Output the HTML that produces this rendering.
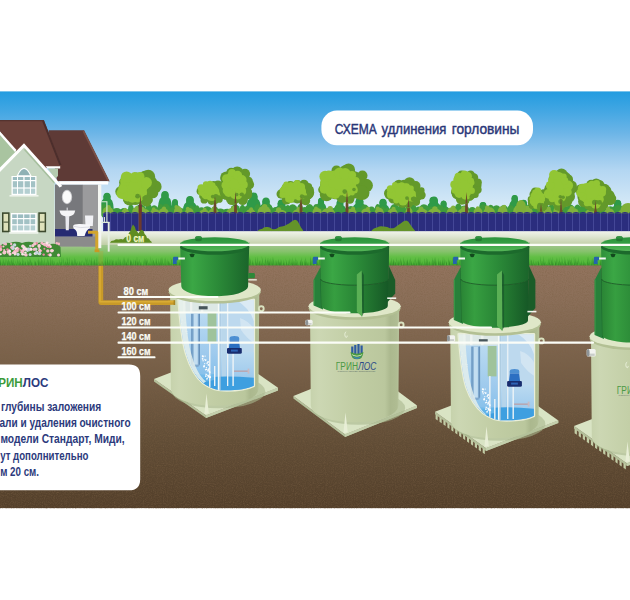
<!DOCTYPE html>
<html lang="ru"><head><meta charset="utf-8"><title>СХЕМА удлинения горловины</title>
<style>
html,body{margin:0;padding:0;background:#fff;}
body{width:630px;height:600px;overflow:hidden;font-family:"Liberation Sans",sans-serif;}
svg{display:block}
text{font-family:"Liberation Sans",sans-serif;}
</style></head><body>
<svg width="630" height="600" viewBox="0 0 630 600">
<defs>
<linearGradient id="sky" x1="0" y1="0" x2="0" y2="1">
<stop offset="0" stop-color="#229ce0"/><stop offset="0.12" stop-color="#41a6e3"/><stop offset="0.27" stop-color="#6cb5e7"/><stop offset="0.38" stop-color="#90c5ec"/><stop offset="0.51" stop-color="#b3d6f2"/><stop offset="0.7" stop-color="#d0e6f6"/><stop offset="0.8" stop-color="#ddedf9"/><stop offset="1" stop-color="#e4f0f9"/>
</linearGradient>
<linearGradient id="soil" x1="0" y1="0" x2="0" y2="1">
<stop offset="0" stop-color="#93745e"/><stop offset="0.14" stop-color="#8b6f59"/><stop offset="0.39" stop-color="#79614a"/><stop offset="0.72" stop-color="#614d36"/><stop offset="1" stop-color="#533f2a"/>
</linearGradient>
<linearGradient id="grass" x1="0" y1="0" x2="0" y2="1">
<stop offset="0" stop-color="#a2c68d"/><stop offset="0.3" stop-color="#86c26c"/><stop offset="0.55" stop-color="#62bf45"/><stop offset="1" stop-color="#4ab433"/>
</linearGradient>
<linearGradient id="band" x1="0" y1="0" x2="0" y2="1">
<stop offset="0" stop-color="#f0f3ea"/><stop offset="0.35" stop-color="#e0e7d4"/><stop offset="0.75" stop-color="#ccd7b6"/><stop offset="1" stop-color="#becda5"/>
</linearGradient>
<linearGradient id="lid" x1="0" y1="0" x2="1" y2="0">
<stop offset="0" stop-color="#2f8f3a"/><stop offset="0.18" stop-color="#3ba745"/><stop offset="0.55" stop-color="#2b8a38"/><stop offset="1" stop-color="#1a642a"/>
</linearGradient>
<linearGradient id="lidtop" x1="0" y1="0" x2="0" y2="1">
<stop offset="0" stop-color="#2b933b"/><stop offset="0.5" stop-color="#36a045"/><stop offset="0.72" stop-color="#48ad4f"/><stop offset="1" stop-color="#55b558"/>
</linearGradient>
<linearGradient id="lid2" x1="0" y1="0" x2="1" y2="0">
<stop offset="0" stop-color="#2a8535"/><stop offset="0.2" stop-color="#369e40"/><stop offset="0.6" stop-color="#267f33"/><stop offset="1" stop-color="#165826"/>
</linearGradient>
<linearGradient id="body" x1="0" y1="0" x2="1" y2="0">
<stop offset="0" stop-color="#c6d2ac"/><stop offset="0.1" stop-color="#ccd7b3"/><stop offset="0.5" stop-color="#c1cda4"/><stop offset="0.84" stop-color="#bac79d"/><stop offset="0.9" stop-color="#abb88e"/><stop offset="0.97" stop-color="#afbc92"/><stop offset="1" stop-color="#b8c49d"/>
</linearGradient>
<linearGradient id="water" x1="0" y1="0" x2="0" y2="1">
<stop offset="0" stop-color="#badaf1"/><stop offset="0.5" stop-color="#9ecaed"/><stop offset="1" stop-color="#74b9e9"/>
</linearGradient>
<filter id="noise" x="0" y="0" width="100%" height="100%">
<feTurbulence type="fractalNoise" baseFrequency="0.9" numOctaves="2" seed="3" result="n"/>
<feColorMatrix in="n" type="matrix" values="0 0 0 0 0.2  0 0 0 0 0.12  0 0 0 0 0.06  0.9 0.9 0.9 0 -1.15"/>
</filter>
</defs>

<rect width="630" height="600" fill="#fff"/>
<rect x="0" y="91.4" width="630" height="154.6" fill="url(#sky)"/>
<g fill="#2f9a48"><path d="M100.3 215 Q99.8 201.0 103.3 199.0 Q103.0 193.5 107.0 193.0 Q111.0 193.5 110.7 199.0 Q114.2 201.0 113.7 215 Z"/><circle cx="107.0" cy="196.2" r="3.5"/><path d="M158.0 215 Q157.5 199.5 161.2 197.5 Q160.8 192.0 165.0 191.5 Q169.2 192.0 168.8 197.5 Q172.5 199.5 172.0 215 Z"/><circle cx="165.0" cy="194.7" r="3.6"/><path d="M182.9 215 Q182.4 204.5 186.1 202.5 Q185.7 197.0 190.0 196.5 Q194.3 197.0 193.9 202.5 Q197.6 204.5 197.1 215 Z"/><circle cx="190.0" cy="199.7" r="3.7"/><path d="M246.2 215 Q245.7 201.0 249.5 199.0 Q249.2 193.5 253.6 193.0 Q258.0 193.5 257.7 199.0 Q261.5 201.0 261.0 215 Z"/><circle cx="253.6" cy="196.2" r="3.8"/><path d="M259.0 215 Q258.5 206.0 262.2 204.0 Q261.8 198.5 266.0 198.0 Q270.2 198.5 269.8 204.0 Q273.5 206.0 273.0 215 Z"/><circle cx="266.0" cy="201.2" r="3.6"/><path d="M274.2 215 Q273.7 208.0 277.5 206.0 Q277.1 200.5 281.5 200.0 Q285.9 200.5 285.5 206.0 Q289.3 208.0 288.8 215 Z"/><circle cx="281.5" cy="203.2" r="3.8"/><path d="M315.4 215 Q314.9 205.6 317.9 203.6 Q317.7 198.1 321.0 197.6 Q324.3 198.1 324.1 203.6 Q327.1 205.6 326.6 215 Z"/><circle cx="321.0" cy="200.8" r="2.9"/><path d="M333.6 215 Q333.1 207.5 336.5 205.5 Q336.1 200.0 340.0 199.5 Q343.9 200.0 343.5 205.5 Q346.9 207.5 346.4 215 Z"/><circle cx="340.0" cy="202.7" r="3.3"/><path d="M352.1 215 Q351.6 206.0 355.4 204.0 Q355.1 198.5 359.5 198.0 Q363.9 198.5 363.6 204.0 Q367.4 206.0 366.9 215 Z"/><circle cx="359.5" cy="201.2" r="3.8"/><path d="M376.2 215 Q375.7 207.0 379.3 205.0 Q378.9 199.5 383.0 199.0 Q387.1 199.5 386.7 205.0 Q390.3 207.0 389.8 215 Z"/><circle cx="383.0" cy="202.2" r="3.5"/><path d="M426.7 215 Q426.2 205.0 430.0 203.0 Q429.6 197.5 434.0 197.0 Q438.4 197.5 438.0 203.0 Q441.8 205.0 441.3 215 Z"/><circle cx="434.0" cy="200.2" r="3.8"/><path d="M437.9 215 Q437.4 208.5 440.5 206.5 Q440.2 201.0 443.6 200.5 Q447.0 201.0 446.7 206.5 Q449.8 208.5 449.3 215 Z"/><circle cx="443.6" cy="203.7" r="3.0"/><path d="M476.6 215 Q476.1 210.0 479.5 208.0 Q479.1 202.5 483.0 202.0 Q486.9 202.5 486.5 208.0 Q489.9 210.0 489.4 215 Z"/><circle cx="483.0" cy="205.2" r="3.3"/><path d="M508.7 215 Q508.2 203.0 511.4 201.0 Q511.1 195.5 514.7 195.0 Q518.3 195.5 518.0 201.0 Q521.2 203.0 520.7 215 Z"/><circle cx="514.7" cy="198.2" r="3.1"/><path d="M516.9 215 Q516.4 208.0 519.9 206.0 Q519.5 200.5 523.5 200.0 Q527.5 200.5 527.1 206.0 Q530.6 208.0 530.1 215 Z"/><circle cx="523.5" cy="203.2" r="3.4"/><path d="M611.1 215 Q610.6 208.0 614.0 206.0 Q613.7 200.5 617.7 200.0 Q621.7 200.5 621.4 206.0 Q624.8 208.0 624.3 215 Z"/><circle cx="617.7" cy="203.2" r="3.5"/><path d="M169.5 215 Q169.0 207.0 172.0 205.0 Q171.7 199.5 175.0 199.0 Q178.3 199.5 178.0 205.0 Q181.0 207.0 180.5 215 Z"/><circle cx="175.0" cy="202.2" r="2.9"/><path d="M426.8 215 Q426.3 205.0 429.4 203.0 Q429.1 197.5 432.7 197.0 Q436.3 197.5 436.0 203.0 Q439.1 205.0 438.6 215 Z"/><circle cx="432.7" cy="200.2" r="3.1"/></g><g fill="#3f9b3c"><ellipse cx="104.0" cy="210.9" rx="3.8" ry="6.9"/><ellipse cx="109.5" cy="212.1" rx="5.0" ry="4.2"/><ellipse cx="116.8" cy="212.2" rx="5.1" ry="4.1"/><ellipse cx="124.1" cy="212.2" rx="4.6" ry="4.1"/><ellipse cx="130.9" cy="211.0" rx="3.1" ry="6.7"/><ellipse cx="135.4" cy="212.1" rx="3.6" ry="4.4"/><ellipse cx="140.6" cy="211.0" rx="5.5" ry="6.7"/><ellipse cx="148.7" cy="210.9" rx="3.8" ry="7.1"/><ellipse cx="154.2" cy="211.3" rx="4.4" ry="6.0"/><ellipse cx="160.6" cy="210.9" rx="3.6" ry="7.0"/><ellipse cx="165.9" cy="210.9" rx="4.8" ry="7.1"/><ellipse cx="172.9" cy="211.9" rx="5.3" ry="4.7"/><ellipse cx="180.6" cy="212.1" rx="4.0" ry="4.2"/><ellipse cx="186.4" cy="212.3" rx="3.5" ry="3.8"/><ellipse cx="191.4" cy="211.4" rx="3.8" ry="5.8"/><ellipse cx="197.0" cy="211.3" rx="3.1" ry="6.0"/><ellipse cx="201.5" cy="211.9" rx="3.9" ry="4.7"/><ellipse cx="207.2" cy="211.6" rx="5.1" ry="5.3"/><ellipse cx="214.7" cy="211.6" rx="3.9" ry="5.3"/><ellipse cx="220.3" cy="212.3" rx="4.8" ry="3.8"/><ellipse cx="227.3" cy="212.4" rx="5.5" ry="3.7"/><ellipse cx="235.3" cy="211.0" rx="5.0" ry="6.6"/><ellipse cx="242.5" cy="211.1" rx="3.1" ry="6.4"/><ellipse cx="247.1" cy="211.5" rx="4.0" ry="5.7"/><ellipse cx="252.9" cy="212.3" rx="3.1" ry="3.8"/><ellipse cx="257.5" cy="210.9" rx="3.5" ry="7.0"/><ellipse cx="262.6" cy="211.2" rx="3.6" ry="6.3"/><ellipse cx="267.8" cy="210.9" rx="5.4" ry="7.0"/><ellipse cx="275.7" cy="211.8" rx="4.0" ry="4.9"/><ellipse cx="281.4" cy="211.2" rx="4.4" ry="6.4"/><ellipse cx="287.8" cy="211.2" rx="3.4" ry="6.3"/><ellipse cx="292.7" cy="211.0" rx="5.1" ry="6.7"/><ellipse cx="300.1" cy="210.9" rx="3.2" ry="7.0"/><ellipse cx="304.7" cy="211.9" rx="3.3" ry="4.8"/><ellipse cx="309.5" cy="210.9" rx="4.6" ry="6.9"/><ellipse cx="316.2" cy="210.9" rx="3.9" ry="6.9"/><ellipse cx="321.9" cy="211.9" rx="4.5" ry="4.7"/><ellipse cx="328.4" cy="212.1" rx="3.9" ry="4.2"/><ellipse cx="334.0" cy="212.2" rx="3.3" ry="4.1"/><ellipse cx="338.8" cy="210.8" rx="4.8" ry="7.2"/><ellipse cx="345.8" cy="212.3" rx="3.5" ry="3.8"/><ellipse cx="350.9" cy="211.5" rx="5.5" ry="5.5"/><ellipse cx="358.9" cy="212.0" rx="4.1" ry="4.5"/><ellipse cx="364.9" cy="211.1" rx="4.6" ry="6.6"/><ellipse cx="371.5" cy="211.7" rx="4.2" ry="5.1"/><ellipse cx="377.7" cy="210.9" rx="3.2" ry="6.9"/><ellipse cx="382.4" cy="211.6" rx="3.2" ry="5.4"/><ellipse cx="387.0" cy="212.2" rx="5.2" ry="4.1"/><ellipse cx="394.5" cy="210.9" rx="4.9" ry="7.0"/><ellipse cx="401.6" cy="211.1" rx="4.7" ry="6.4"/><ellipse cx="408.4" cy="211.7" rx="3.4" ry="5.2"/><ellipse cx="413.3" cy="211.0" rx="3.5" ry="6.6"/><ellipse cx="418.3" cy="211.7" rx="3.8" ry="5.2"/><ellipse cx="423.9" cy="211.0" rx="5.6" ry="6.7"/><ellipse cx="432.0" cy="211.7" rx="5.5" ry="5.2"/><ellipse cx="440.0" cy="211.2" rx="4.3" ry="6.2"/><ellipse cx="446.3" cy="211.9" rx="4.3" ry="4.6"/><ellipse cx="452.5" cy="212.2" rx="4.1" ry="4.1"/><ellipse cx="458.4" cy="210.8" rx="4.0" ry="7.2"/><ellipse cx="464.3" cy="211.4" rx="5.5" ry="5.9"/><ellipse cx="472.3" cy="211.9" rx="4.3" ry="4.8"/><ellipse cx="478.6" cy="212.0" rx="3.3" ry="4.6"/><ellipse cx="483.4" cy="211.0" rx="5.0" ry="6.7"/><ellipse cx="490.7" cy="211.1" rx="4.0" ry="6.4"/><ellipse cx="496.5" cy="211.3" rx="5.0" ry="6.1"/><ellipse cx="503.8" cy="211.2" rx="4.7" ry="6.3"/><ellipse cx="510.7" cy="211.3" rx="4.0" ry="6.1"/><ellipse cx="516.5" cy="211.6" rx="3.8" ry="5.3"/><ellipse cx="522.0" cy="211.3" rx="5.0" ry="6.1"/><ellipse cx="529.3" cy="210.9" rx="3.8" ry="7.0"/><ellipse cx="534.8" cy="211.5" rx="4.7" ry="5.7"/><ellipse cx="541.7" cy="211.5" rx="3.1" ry="5.6"/><ellipse cx="546.2" cy="211.3" rx="3.7" ry="6.0"/><ellipse cx="551.6" cy="211.1" rx="4.2" ry="6.5"/><ellipse cx="557.8" cy="211.1" rx="4.7" ry="6.5"/><ellipse cx="564.6" cy="211.4" rx="4.0" ry="5.9"/><ellipse cx="570.4" cy="211.1" rx="4.9" ry="6.6"/><ellipse cx="577.5" cy="211.1" rx="4.0" ry="6.6"/><ellipse cx="583.3" cy="211.3" rx="5.3" ry="6.1"/><ellipse cx="590.9" cy="210.9" rx="5.5" ry="7.0"/><ellipse cx="598.9" cy="211.6" rx="4.4" ry="5.5"/><ellipse cx="605.3" cy="211.1" rx="3.5" ry="6.6"/><ellipse cx="610.4" cy="211.6" rx="5.4" ry="5.3"/><ellipse cx="618.3" cy="211.2" rx="4.8" ry="6.2"/><ellipse cx="625.2" cy="212.1" rx="4.9" ry="4.2"/><ellipse cx="632.4" cy="211.5" rx="5.0" ry="5.7"/><ellipse cx="639.7" cy="211.7" rx="4.8" ry="5.1"/></g><g fill="#80b23d"><ellipse cx="108.0" cy="212.2" rx="5.5" ry="5.7"/><circle cx="108.5" cy="207.3" r="2.3"/><ellipse cx="125.3" cy="212.8" rx="3.7" ry="3.7"/><circle cx="125.0" cy="209.3" r="1.5"/><ellipse cx="136.4" cy="212.3" rx="4.3" ry="5.4"/><circle cx="136.9" cy="207.6" r="1.8"/><ellipse cx="144.5" cy="212.8" rx="5.0" ry="3.9"/><circle cx="142.7" cy="209.1" r="2.1"/><ellipse cx="155.0" cy="212.8" rx="4.6" ry="3.8"/><circle cx="153.7" cy="209.2" r="1.9"/><ellipse cx="163.6" cy="212.6" rx="5.0" ry="4.4"/><circle cx="164.0" cy="208.6" r="2.1"/><ellipse cx="178.2" cy="212.1" rx="4.3" ry="6.1"/><circle cx="176.2" cy="206.9" r="1.8"/><ellipse cx="189.3" cy="212.6" rx="4.4" ry="4.5"/><circle cx="187.7" cy="208.5" r="1.8"/><ellipse cx="204.2" cy="213.0" rx="4.7" ry="3.3"/><circle cx="204.6" cy="209.7" r="2.0"/><ellipse cx="213.6" cy="212.7" rx="5.2" ry="4.3"/><circle cx="214.0" cy="208.7" r="2.2"/><ellipse cx="232.4" cy="212.6" rx="6.1" ry="4.5"/><circle cx="233.7" cy="208.5" r="2.5"/><ellipse cx="250.7" cy="212.9" rx="4.7" ry="3.7"/><circle cx="251.1" cy="209.3" r="2.0"/><ellipse cx="264.2" cy="212.0" rx="6.5" ry="6.3"/><circle cx="264.6" cy="206.7" r="2.7"/><ellipse cx="280.2" cy="213.0" rx="6.3" ry="3.2"/><circle cx="278.6" cy="209.8" r="2.6"/><ellipse cx="298.2" cy="212.9" rx="5.4" ry="3.7"/><circle cx="298.7" cy="209.3" r="2.3"/><ellipse cx="317.1" cy="212.6" rx="4.7" ry="4.6"/><circle cx="316.0" cy="208.4" r="2.0"/><ellipse cx="328.3" cy="212.6" rx="6.5" ry="4.4"/><circle cx="330.2" cy="208.6" r="2.7"/><ellipse cx="351.2" cy="212.7" rx="5.4" ry="4.0"/><circle cx="353.1" cy="209.0" r="2.2"/><ellipse cx="366.0" cy="212.7" rx="4.8" ry="4.2"/><circle cx="367.9" cy="208.8" r="2.0"/><ellipse cx="379.2" cy="212.5" rx="4.5" ry="4.7"/><circle cx="377.7" cy="208.3" r="1.9"/><ellipse cx="392.5" cy="212.7" rx="4.9" ry="4.1"/><circle cx="393.6" cy="208.9" r="2.1"/><ellipse cx="409.0" cy="212.5" rx="3.6" ry="4.9"/><circle cx="408.1" cy="208.1" r="1.5"/><ellipse cx="421.9" cy="212.8" rx="5.9" ry="4.0"/><circle cx="421.0" cy="209.0" r="2.5"/><ellipse cx="434.5" cy="212.7" rx="6.6" ry="4.1"/><circle cx="434.9" cy="208.9" r="2.7"/><ellipse cx="452.2" cy="212.4" rx="5.5" ry="5.1"/><circle cx="453.2" cy="207.9" r="2.3"/><ellipse cx="463.6" cy="212.7" rx="5.9" ry="4.2"/><circle cx="463.7" cy="208.8" r="2.5"/><ellipse cx="478.0" cy="212.5" rx="4.5" ry="4.9"/><circle cx="477.8" cy="208.1" r="1.9"/><ellipse cx="489.2" cy="212.4" rx="5.8" ry="5.1"/><circle cx="487.3" cy="207.9" r="2.4"/><ellipse cx="502.6" cy="212.1" rx="5.0" ry="6.1"/><circle cx="504.1" cy="206.9" r="2.1"/><ellipse cx="516.7" cy="212.2" rx="3.6" ry="5.7"/><circle cx="516.4" cy="207.3" r="1.5"/><ellipse cx="527.2" cy="212.4" rx="5.7" ry="5.2"/><circle cx="527.1" cy="207.8" r="2.4"/><ellipse cx="547.2" cy="212.6" rx="4.8" ry="4.5"/><circle cx="548.7" cy="208.5" r="2.0"/><ellipse cx="557.7" cy="212.2" rx="4.5" ry="5.9"/><circle cx="555.9" cy="207.1" r="1.9"/><ellipse cx="572.8" cy="212.6" rx="5.7" ry="4.6"/><circle cx="571.9" cy="208.4" r="2.4"/><ellipse cx="591.3" cy="212.9" rx="6.3" ry="3.7"/><circle cx="591.3" cy="209.3" r="2.6"/><ellipse cx="609.3" cy="212.7" rx="5.1" ry="4.3"/><circle cx="607.9" cy="208.7" r="2.1"/><ellipse cx="624.1" cy="212.9" rx="6.0" ry="3.4"/><circle cx="623.1" cy="209.6" r="2.5"/></g>
<g><path d="M138.9 214.0 L139.4 188.8 L141.4 188.8 L141.9 214.0 Z" fill="#6b4a2a"/><g fill="#63992a"><ellipse cx="138.0" cy="188.8" rx="18.0" ry="15.0"/><circle cx="155.1" cy="186.7" r="6.5"/><circle cx="152.8" cy="192.8" r="5.5"/><circle cx="148.6" cy="199.8" r="4.3"/><circle cx="146.3" cy="201.3" r="5.4"/><circle cx="135.3" cy="199.5" r="5.5"/><circle cx="129.8" cy="198.5" r="7.1"/><circle cx="126.1" cy="193.7" r="4.1"/><circle cx="120.6" cy="191.6" r="5.3"/><circle cx="122.8" cy="187.5" r="4.1"/><circle cx="124.7" cy="182.5" r="5.6"/><circle cx="129.6" cy="179.2" r="4.7"/><circle cx="136.2" cy="176.7" r="4.1"/><circle cx="144.9" cy="176.9" r="6.1"/><circle cx="148.3" cy="176.5" r="6.8"/><circle cx="150.5" cy="182.1" r="6.4"/></g><g fill="#92c634"><ellipse cx="133.6" cy="186.9" rx="13.7" ry="12.3"/><circle cx="145.4" cy="185.8" r="3.7"/><circle cx="142.3" cy="192.8" r="4.8"/><circle cx="137.6" cy="196.6" r="5.9"/><circle cx="132.5" cy="197.7" r="5.0"/><circle cx="127.6" cy="195.5" r="6.0"/><circle cx="122.0" cy="193.4" r="5.6"/><circle cx="122.8" cy="188.8" r="4.6"/><circle cx="125.1" cy="181.1" r="5.0"/><circle cx="126.6" cy="177.2" r="5.8"/><circle cx="134.7" cy="177.4" r="5.3"/><circle cx="139.9" cy="176.6" r="4.6"/><circle cx="146.4" cy="182.6" r="5.5"/></g><g fill="#63992a"><circle cx="137.6" cy="196.2" r="2.4"/><circle cx="144.3" cy="198.0" r="2.0"/><circle cx="145.5" cy="196.7" r="1.7"/></g><path d="M139.4 206.1 L140.4 194.2 L141.4 206.1 Z" fill="#6b4a2a"/></g><g><path d="M213.5 214.0 L214.0 192.8 L216.0 192.8 L216.5 214.0 Z" fill="#6b4a2a"/><g fill="#63992a"><ellipse cx="212.5" cy="192.8" rx="12.7" ry="9.6"/><circle cx="224.8" cy="194.5" r="2.7"/><circle cx="224.3" cy="195.1" r="4.1"/><circle cx="218.9" cy="198.9" r="3.9"/><circle cx="215.5" cy="201.0" r="2.9"/><circle cx="211.7" cy="200.8" r="4.1"/><circle cx="204.2" cy="199.9" r="3.7"/><circle cx="204.4" cy="197.4" r="2.7"/><circle cx="202.5" cy="196.0" r="3.3"/><circle cx="200.3" cy="191.2" r="3.7"/><circle cx="204.5" cy="188.1" r="2.6"/><circle cx="207.0" cy="186.6" r="3.7"/><circle cx="213.6" cy="184.0" r="3.0"/><circle cx="218.0" cy="184.6" r="4.1"/><circle cx="221.8" cy="187.1" r="4.3"/><circle cx="223.7" cy="188.3" r="4.6"/></g><g fill="#92c634"><ellipse cx="209.4" cy="191.6" rx="9.7" ry="7.9"/><circle cx="216.5" cy="192.7" r="3.4"/><circle cx="217.7" cy="195.4" r="2.8"/><circle cx="212.0" cy="197.3" r="3.8"/><circle cx="209.7" cy="197.7" r="2.7"/><circle cx="205.5" cy="196.5" r="2.8"/><circle cx="203.9" cy="195.5" r="2.4"/><circle cx="201.7" cy="192.3" r="3.5"/><circle cx="201.2" cy="188.0" r="3.7"/><circle cx="206.0" cy="184.3" r="3.1"/><circle cx="210.0" cy="183.9" r="3.1"/><circle cx="212.5" cy="185.2" r="3.0"/><circle cx="215.2" cy="187.9" r="2.4"/></g><g fill="#63992a"><circle cx="215.9" cy="196.5" r="2.6"/><circle cx="218.8" cy="197.6" r="2.3"/><circle cx="212.8" cy="196.6" r="1.9"/></g><path d="M214.0 203.9 L215.0 196.3 L216.0 203.9 Z" fill="#6b4a2a"/></g><g><path d="M234.0 214.0 L234.5 186.0 L236.5 186.0 L237.0 214.0 Z" fill="#6b4a2a"/><g fill="#63992a"><ellipse cx="237.0" cy="186.0" rx="13.9" ry="15.2"/><circle cx="249.2" cy="184.6" r="4.9"/><circle cx="248.2" cy="192.1" r="3.9"/><circle cx="247.7" cy="194.7" r="4.5"/><circle cx="242.7" cy="199.8" r="5.2"/><circle cx="234.2" cy="198.7" r="5.7"/><circle cx="232.3" cy="198.7" r="6.4"/><circle cx="226.4" cy="194.2" r="5.8"/><circle cx="224.9" cy="191.3" r="5.5"/><circle cx="226.8" cy="184.5" r="6.4"/><circle cx="226.5" cy="177.9" r="6.4"/><circle cx="231.2" cy="172.6" r="4.9"/><circle cx="237.2" cy="173.1" r="6.6"/><circle cx="241.7" cy="175.7" r="4.2"/><circle cx="245.0" cy="173.8" r="5.1"/><circle cx="247.6" cy="181.6" r="5.3"/></g><g fill="#92c634"><ellipse cx="233.6" cy="184.2" rx="10.6" ry="12.4"/><circle cx="243.9" cy="184.7" r="3.9"/><circle cx="242.1" cy="191.1" r="4.1"/><circle cx="237.7" cy="194.6" r="4.8"/><circle cx="235.1" cy="193.7" r="5.2"/><circle cx="228.6" cy="192.3" r="4.6"/><circle cx="226.6" cy="190.4" r="3.9"/><circle cx="225.5" cy="185.2" r="4.0"/><circle cx="226.4" cy="178.6" r="4.4"/><circle cx="231.0" cy="175.4" r="3.5"/><circle cx="232.0" cy="172.9" r="3.8"/><circle cx="237.6" cy="175.4" r="4.6"/><circle cx="241.8" cy="179.8" r="4.8"/></g><g fill="#63992a"><circle cx="236.7" cy="194.6" r="1.8"/><circle cx="242.0" cy="194.6" r="2.0"/><circle cx="241.1" cy="194.3" r="1.6"/></g><path d="M234.5 203.6 L235.5 191.6 L236.5 203.6 Z" fill="#6b4a2a"/></g><g><path d="M299.5 214.0 L300.0 192.5 L302.0 192.5 L302.5 214.0 Z" fill="#6b4a2a"/><g fill="#63992a"><ellipse cx="297.0" cy="192.5" rx="17.2" ry="10.2"/><circle cx="310.0" cy="191.7" r="3.6"/><circle cx="309.4" cy="194.6" r="3.7"/><circle cx="305.7" cy="200.7" r="4.5"/><circle cx="303.2" cy="200.7" r="3.4"/><circle cx="297.3" cy="200.3" r="3.2"/><circle cx="286.5" cy="200.0" r="4.6"/><circle cx="285.2" cy="196.4" r="3.4"/><circle cx="281.2" cy="194.0" r="4.7"/><circle cx="284.8" cy="189.8" r="4.1"/><circle cx="285.5" cy="186.8" r="3.2"/><circle cx="290.4" cy="185.8" r="4.9"/><circle cx="297.6" cy="183.5" r="3.4"/><circle cx="304.0" cy="184.4" r="4.7"/><circle cx="308.4" cy="186.8" r="3.7"/><circle cx="310.6" cy="189.3" r="3.1"/></g><g fill="#92c634"><ellipse cx="292.8" cy="191.2" rx="13.1" ry="8.4"/><circle cx="302.7" cy="192.3" r="3.3"/><circle cx="304.1" cy="195.4" r="3.0"/><circle cx="298.8" cy="197.6" r="3.0"/><circle cx="290.7" cy="199.3" r="3.6"/><circle cx="288.4" cy="199.1" r="3.3"/><circle cx="282.6" cy="194.7" r="3.2"/><circle cx="282.4" cy="190.1" r="2.5"/><circle cx="284.9" cy="186.8" r="2.8"/><circle cx="286.2" cy="184.3" r="2.9"/><circle cx="290.8" cy="184.6" r="2.7"/><circle cx="296.9" cy="183.5" r="3.6"/><circle cx="301.0" cy="187.1" r="4.1"/></g><g fill="#63992a"><circle cx="306.2" cy="197.6" r="2.3"/><circle cx="303.4" cy="196.6" r="1.7"/><circle cx="301.9" cy="196.2" r="2.0"/></g><path d="M300.0 204.4 L301.0 196.2 L302.0 204.4 Z" fill="#6b4a2a"/></g><g><path d="M345.5 214.0 L346.0 184.8 L348.0 184.8 L348.5 214.0 Z" fill="#6b4a2a"/><g fill="#63992a"><ellipse cx="344.0" cy="184.8" rx="23.8" ry="15.4"/><circle cx="366.1" cy="185.5" r="6.8"/><circle cx="362.3" cy="192.8" r="7.2"/><circle cx="360.2" cy="192.7" r="7.3"/><circle cx="349.8" cy="199.2" r="4.5"/><circle cx="342.3" cy="197.0" r="6.0"/><circle cx="334.8" cy="194.4" r="4.9"/><circle cx="326.5" cy="194.6" r="6.7"/><circle cx="322.8" cy="189.7" r="4.6"/><circle cx="326.4" cy="181.8" r="4.1"/><circle cx="330.6" cy="176.3" r="4.9"/><circle cx="336.5" cy="170.7" r="5.1"/><circle cx="345.7" cy="171.3" r="6.4"/><circle cx="348.6" cy="169.9" r="6.5"/><circle cx="362.4" cy="175.7" r="5.1"/><circle cx="360.4" cy="179.3" r="4.6"/></g><g fill="#92c634"><ellipse cx="338.2" cy="182.9" rx="18.1" ry="12.6"/><circle cx="355.8" cy="180.8" r="3.8"/><circle cx="352.3" cy="189.9" r="5.5"/><circle cx="346.7" cy="191.5" r="5.4"/><circle cx="335.2" cy="194.1" r="4.9"/><circle cx="331.2" cy="192.3" r="5.4"/><circle cx="324.7" cy="188.7" r="5.1"/><circle cx="324.8" cy="182.4" r="4.0"/><circle cx="325.1" cy="176.5" r="5.7"/><circle cx="328.9" cy="175.2" r="4.8"/><circle cx="339.6" cy="173.0" r="5.5"/><circle cx="345.1" cy="173.8" r="5.7"/><circle cx="352.0" cy="175.1" r="4.2"/></g><g fill="#63992a"><circle cx="356.4" cy="195.2" r="2.3"/><circle cx="344.7" cy="191.6" r="2.3"/><circle cx="354.0" cy="189.5" r="1.8"/></g><path d="M346.0 202.6 L347.0 190.4 L348.0 202.6 Z" fill="#6b4a2a"/></g><g><path d="M407.0 214.0 L407.5 193.8 L409.5 193.8 L410.0 214.0 Z" fill="#6b4a2a"/><g fill="#63992a"><ellipse cx="405.2" cy="193.8" rx="17.0" ry="11.7"/><circle cx="421.3" cy="195.1" r="4.4"/><circle cx="417.1" cy="196.5" r="4.8"/><circle cx="416.0" cy="201.8" r="4.1"/><circle cx="408.1" cy="203.0" r="5.2"/><circle cx="402.4" cy="203.4" r="4.5"/><circle cx="397.8" cy="201.3" r="4.6"/><circle cx="393.3" cy="198.3" r="5.2"/><circle cx="389.1" cy="195.3" r="4.0"/><circle cx="389.2" cy="193.2" r="5.2"/><circle cx="394.7" cy="188.7" r="3.6"/><circle cx="399.0" cy="185.3" r="5.6"/><circle cx="404.3" cy="184.6" r="4.8"/><circle cx="409.5" cy="182.7" r="5.5"/><circle cx="415.6" cy="185.9" r="4.9"/><circle cx="421.4" cy="190.4" r="3.2"/></g><g fill="#92c634"><ellipse cx="401.1" cy="192.3" rx="12.9" ry="9.6"/><circle cx="412.3" cy="193.9" r="3.6"/><circle cx="411.5" cy="196.9" r="4.7"/><circle cx="406.5" cy="198.8" r="3.4"/><circle cx="403.1" cy="200.9" r="4.7"/><circle cx="396.3" cy="200.6" r="3.0"/><circle cx="390.4" cy="195.2" r="3.4"/><circle cx="391.3" cy="193.7" r="4.5"/><circle cx="390.4" cy="189.0" r="3.7"/><circle cx="394.9" cy="184.8" r="2.8"/><circle cx="401.8" cy="185.2" r="3.0"/><circle cx="406.8" cy="186.1" r="2.9"/><circle cx="411.2" cy="188.0" r="2.6"/></g><g fill="#63992a"><circle cx="413.2" cy="199.1" r="2.4"/><circle cx="414.0" cy="198.9" r="2.4"/><circle cx="407.0" cy="198.1" r="1.9"/></g><path d="M407.5 207.3 L408.5 198.0 L409.5 207.3 Z" fill="#6b4a2a"/></g><g><path d="M465.0 214.0 L465.5 186.5 L467.5 186.5 L468.0 214.0 Z" fill="#6b4a2a"/><g fill="#63992a"><ellipse cx="466.5" cy="186.5" rx="12.7" ry="14.8"/><circle cx="476.3" cy="185.7" r="5.2"/><circle cx="477.3" cy="189.7" r="4.4"/><circle cx="475.2" cy="194.4" r="3.5"/><circle cx="469.7" cy="196.9" r="3.7"/><circle cx="465.6" cy="200.5" r="3.8"/><circle cx="461.9" cy="198.7" r="6.1"/><circle cx="457.7" cy="193.5" r="6.1"/><circle cx="455.2" cy="191.9" r="4.2"/><circle cx="456.8" cy="185.7" r="4.3"/><circle cx="459.3" cy="178.6" r="5.0"/><circle cx="461.7" cy="175.5" r="4.9"/><circle cx="463.9" cy="175.9" r="4.0"/><circle cx="470.6" cy="174.9" r="4.3"/><circle cx="474.0" cy="177.4" r="4.2"/><circle cx="477.7" cy="182.5" r="4.1"/></g><g fill="#92c634"><ellipse cx="463.4" cy="184.7" rx="9.7" ry="12.1"/><circle cx="471.9" cy="182.7" r="2.6"/><circle cx="471.7" cy="190.8" r="3.2"/><circle cx="466.3" cy="195.0" r="4.5"/><circle cx="465.1" cy="195.7" r="3.7"/><circle cx="459.1" cy="193.2" r="4.7"/><circle cx="455.4" cy="189.7" r="4.0"/><circle cx="454.2" cy="184.5" r="3.9"/><circle cx="457.1" cy="179.8" r="3.8"/><circle cx="458.1" cy="176.2" r="3.5"/><circle cx="464.3" cy="174.0" r="3.4"/><circle cx="467.3" cy="176.4" r="4.7"/><circle cx="470.9" cy="180.9" r="3.1"/></g><g fill="#63992a"><circle cx="471.0" cy="196.7" r="1.6"/><circle cx="473.0" cy="196.2" r="1.7"/><circle cx="471.8" cy="196.1" r="1.8"/></g><path d="M465.5 203.6 L466.5 191.9 L467.5 203.6 Z" fill="#6b4a2a"/></g><g><path d="M539.5 214.0 L540.0 199.8 L542.0 199.8 L542.5 214.0 Z" fill="#6b4a2a"/><g fill="#63992a"><ellipse cx="539.5" cy="199.8" rx="9.4" ry="10.0"/><circle cx="548.8" cy="198.7" r="2.8"/><circle cx="545.7" cy="203.4" r="3.0"/><circle cx="543.3" cy="206.6" r="3.9"/><circle cx="542.1" cy="207.9" r="3.6"/><circle cx="539.7" cy="209.3" r="2.7"/><circle cx="536.7" cy="206.5" r="3.1"/><circle cx="532.3" cy="205.8" r="3.3"/><circle cx="532.4" cy="202.6" r="4.6"/><circle cx="531.0" cy="199.4" r="3.3"/><circle cx="533.5" cy="194.5" r="4.0"/><circle cx="535.2" cy="191.9" r="4.4"/><circle cx="539.0" cy="192.0" r="2.7"/><circle cx="543.3" cy="192.1" r="2.9"/><circle cx="546.1" cy="194.3" r="4.0"/><circle cx="546.9" cy="197.6" r="3.3"/></g><g fill="#92c634"><ellipse cx="537.2" cy="198.5" rx="7.2" ry="8.2"/><circle cx="542.8" cy="198.7" r="2.9"/><circle cx="541.3" cy="202.5" r="2.6"/><circle cx="540.4" cy="204.1" r="3.3"/><circle cx="535.9" cy="206.2" r="2.6"/><circle cx="533.8" cy="203.4" r="2.7"/><circle cx="532.6" cy="201.7" r="2.8"/><circle cx="531.3" cy="198.9" r="2.1"/><circle cx="532.6" cy="195.0" r="2.0"/><circle cx="535.1" cy="192.3" r="2.9"/><circle cx="537.8" cy="190.8" r="3.4"/><circle cx="539.5" cy="192.0" r="2.1"/><circle cx="542.3" cy="195.8" r="2.3"/></g><g fill="#63992a"><circle cx="539.9" cy="205.3" r="2.6"/><circle cx="542.5" cy="204.9" r="1.9"/><circle cx="539.2" cy="207.1" r="2.4"/></g><path d="M540.0 211.4 L541.0 203.4 L542.0 211.4 Z" fill="#6b4a2a"/></g><g><path d="M559.5 214.0 L560.0 189.5 L562.0 189.5 L562.5 214.0 Z" fill="#6b4a2a"/><g fill="#63992a"><ellipse cx="561.2" cy="189.5" rx="13.7" ry="18.4"/><circle cx="572.7" cy="189.3" r="4.1"/><circle cx="569.8" cy="196.8" r="5.2"/><circle cx="566.9" cy="201.2" r="5.4"/><circle cx="563.9" cy="202.7" r="4.8"/><circle cx="559.1" cy="205.0" r="5.9"/><circle cx="557.1" cy="203.1" r="4.0"/><circle cx="550.3" cy="200.1" r="5.5"/><circle cx="549.8" cy="191.0" r="5.9"/><circle cx="550.1" cy="188.8" r="5.7"/><circle cx="552.5" cy="179.2" r="3.9"/><circle cx="555.0" cy="177.6" r="4.5"/><circle cx="561.5" cy="175.0" r="6.4"/><circle cx="565.9" cy="177.2" r="4.8"/><circle cx="568.0" cy="179.4" r="5.0"/><circle cx="571.4" cy="185.9" r="5.5"/></g><g fill="#92c634"><ellipse cx="557.9" cy="187.2" rx="10.4" ry="15.1"/><circle cx="568.1" cy="185.6" r="5.0"/><circle cx="567.4" cy="192.0" r="4.4"/><circle cx="561.2" cy="197.2" r="4.7"/><circle cx="558.4" cy="201.6" r="4.0"/><circle cx="552.2" cy="198.6" r="3.6"/><circle cx="548.6" cy="193.9" r="4.8"/><circle cx="550.1" cy="185.4" r="4.3"/><circle cx="551.2" cy="179.7" r="2.9"/><circle cx="554.1" cy="175.1" r="5.0"/><circle cx="557.1" cy="175.9" r="4.1"/><circle cx="563.7" cy="176.4" r="3.0"/><circle cx="564.6" cy="180.8" r="3.7"/></g><g fill="#63992a"><circle cx="560.8" cy="201.5" r="2.5"/><circle cx="563.1" cy="197.3" r="1.8"/><circle cx="560.3" cy="196.8" r="1.8"/></g><path d="M560.0 210.9 L561.0 196.2 L562.0 210.9 Z" fill="#6b4a2a"/></g><g><path d="M594.0 214.0 L594.5 195.2 L596.5 195.2 L597.0 214.0 Z" fill="#6b4a2a"/><g fill="#63992a"><ellipse cx="595.5" cy="195.2" rx="16.0" ry="13.8"/><circle cx="609.0" cy="195.5" r="5.5"/><circle cx="610.0" cy="199.0" r="6.2"/><circle cx="603.2" cy="203.5" r="5.3"/><circle cx="600.3" cy="205.4" r="6.6"/><circle cx="591.9" cy="205.0" r="6.3"/><circle cx="588.4" cy="204.9" r="4.6"/><circle cx="583.9" cy="201.4" r="5.8"/><circle cx="583.4" cy="196.7" r="6.0"/><circle cx="580.9" cy="189.8" r="5.6"/><circle cx="584.9" cy="190.8" r="4.1"/><circle cx="591.1" cy="184.6" r="4.8"/><circle cx="596.2" cy="183.9" r="5.4"/><circle cx="598.9" cy="185.2" r="5.5"/><circle cx="605.0" cy="188.3" r="4.4"/><circle cx="606.2" cy="190.7" r="5.2"/></g><g fill="#92c634"><ellipse cx="591.6" cy="193.5" rx="12.2" ry="11.3"/><circle cx="602.3" cy="192.7" r="3.7"/><circle cx="599.9" cy="199.3" r="3.9"/><circle cx="595.7" cy="203.5" r="5.2"/><circle cx="591.0" cy="202.3" r="4.0"/><circle cx="586.9" cy="203.2" r="3.1"/><circle cx="582.9" cy="197.0" r="3.8"/><circle cx="580.5" cy="192.9" r="4.3"/><circle cx="582.4" cy="188.2" r="4.5"/><circle cx="585.4" cy="186.3" r="3.1"/><circle cx="591.9" cy="184.3" r="3.6"/><circle cx="596.6" cy="183.3" r="3.4"/><circle cx="602.7" cy="189.5" r="3.5"/></g><g fill="#63992a"><circle cx="596.5" cy="202.1" r="2.1"/><circle cx="594.6" cy="202.3" r="2.6"/><circle cx="599.6" cy="202.4" r="2.4"/></g><path d="M594.5 211.2 L595.5 200.2 L596.5 211.2 Z" fill="#6b4a2a"/></g><g fill="#7fb038"><ellipse cx="628" cy="209" rx="7" ry="6"/><ellipse cx="521" cy="207" rx="5" ry="7"/></g>
<g><rect x="103" y="213.4" width="527" height="18.1" fill="#2b2d7e"/><path d="M103.9 213.6 L104.3 212.6 Q107.0 211.2 109.7 212.6 L110.1 213.6 Z M110.9 213.6 L111.3 212.6 Q114.0 211.2 116.7 212.6 L117.1 213.6 Z M117.9 213.6 L118.3 212.6 Q121.0 211.2 123.7 212.6 L124.1 213.6 Z M124.9 213.6 L125.3 212.6 Q128.0 211.2 130.7 212.6 L131.1 213.6 Z M131.9 213.6 L132.3 212.6 Q135.0 211.2 137.7 212.6 L138.1 213.6 Z M138.9 213.6 L139.3 212.6 Q142.0 211.2 144.7 212.6 L145.1 213.6 Z M145.9 213.6 L146.3 212.6 Q149.0 211.2 151.7 212.6 L152.1 213.6 Z M152.9 213.6 L153.3 212.6 Q156.0 211.2 158.7 212.6 L159.1 213.6 Z M159.9 213.6 L160.3 212.6 Q163.0 211.2 165.7 212.6 L166.1 213.6 Z M166.9 213.6 L167.3 212.6 Q170.0 211.2 172.7 212.6 L173.1 213.6 Z M173.9 213.6 L174.3 212.6 Q177.0 211.2 179.7 212.6 L180.1 213.6 Z M180.9 213.6 L181.3 212.6 Q184.0 211.2 186.7 212.6 L187.1 213.6 Z M187.9 213.6 L188.3 212.6 Q191.0 211.2 193.7 212.6 L194.1 213.6 Z M194.9 213.6 L195.3 212.6 Q198.0 211.2 200.7 212.6 L201.1 213.6 Z M201.9 213.6 L202.3 212.6 Q205.0 211.2 207.7 212.6 L208.1 213.6 Z M208.9 213.6 L209.3 212.6 Q212.0 211.2 214.7 212.6 L215.1 213.6 Z M215.9 213.6 L216.3 212.6 Q219.0 211.2 221.7 212.6 L222.1 213.6 Z M222.9 213.6 L223.3 212.6 Q226.0 211.2 228.7 212.6 L229.1 213.6 Z M229.9 213.6 L230.3 212.6 Q233.0 211.2 235.7 212.6 L236.1 213.6 Z M236.9 213.6 L237.3 212.6 Q240.0 211.2 242.7 212.6 L243.1 213.6 Z M243.9 213.6 L244.3 212.6 Q247.0 211.2 249.7 212.6 L250.1 213.6 Z M250.9 213.6 L251.3 212.6 Q254.0 211.2 256.7 212.6 L257.1 213.6 Z M257.9 213.6 L258.3 212.6 Q261.0 211.2 263.7 212.6 L264.1 213.6 Z M264.9 213.6 L265.3 212.6 Q268.0 211.2 270.7 212.6 L271.1 213.6 Z M271.9 213.6 L272.3 212.6 Q275.0 211.2 277.7 212.6 L278.1 213.6 Z M278.9 213.6 L279.3 212.6 Q282.0 211.2 284.7 212.6 L285.1 213.6 Z M285.9 213.6 L286.3 212.6 Q289.0 211.2 291.7 212.6 L292.1 213.6 Z M292.9 213.6 L293.3 212.6 Q296.0 211.2 298.7 212.6 L299.1 213.6 Z M299.9 213.6 L300.3 212.6 Q303.0 211.2 305.7 212.6 L306.1 213.6 Z M306.9 213.6 L307.3 212.6 Q310.0 211.2 312.7 212.6 L313.1 213.6 Z M313.9 213.6 L314.3 212.6 Q317.0 211.2 319.7 212.6 L320.1 213.6 Z M320.9 213.6 L321.3 212.6 Q324.0 211.2 326.7 212.6 L327.1 213.6 Z M327.9 213.6 L328.3 212.6 Q331.0 211.2 333.7 212.6 L334.1 213.6 Z M334.9 213.6 L335.3 212.6 Q338.0 211.2 340.7 212.6 L341.1 213.6 Z M341.9 213.6 L342.3 212.6 Q345.0 211.2 347.7 212.6 L348.1 213.6 Z M348.9 213.6 L349.3 212.6 Q352.0 211.2 354.7 212.6 L355.1 213.6 Z M355.9 213.6 L356.3 212.6 Q359.0 211.2 361.7 212.6 L362.1 213.6 Z M362.9 213.6 L363.3 212.6 Q366.0 211.2 368.7 212.6 L369.1 213.6 Z M369.9 213.6 L370.3 212.6 Q373.0 211.2 375.7 212.6 L376.1 213.6 Z M376.9 213.6 L377.3 212.6 Q380.0 211.2 382.7 212.6 L383.1 213.6 Z M383.9 213.6 L384.3 212.6 Q387.0 211.2 389.7 212.6 L390.1 213.6 Z M390.9 213.6 L391.3 212.6 Q394.0 211.2 396.7 212.6 L397.1 213.6 Z M397.9 213.6 L398.3 212.6 Q401.0 211.2 403.7 212.6 L404.1 213.6 Z M404.9 213.6 L405.3 212.6 Q408.0 211.2 410.7 212.6 L411.1 213.6 Z M411.9 213.6 L412.3 212.6 Q415.0 211.2 417.7 212.6 L418.1 213.6 Z M418.9 213.6 L419.3 212.6 Q422.0 211.2 424.7 212.6 L425.1 213.6 Z M425.9 213.6 L426.3 212.6 Q429.0 211.2 431.7 212.6 L432.1 213.6 Z M432.9 213.6 L433.3 212.6 Q436.0 211.2 438.7 212.6 L439.1 213.6 Z M439.9 213.6 L440.3 212.6 Q443.0 211.2 445.7 212.6 L446.1 213.6 Z M446.9 213.6 L447.3 212.6 Q450.0 211.2 452.7 212.6 L453.1 213.6 Z M453.9 213.6 L454.3 212.6 Q457.0 211.2 459.7 212.6 L460.1 213.6 Z M460.9 213.6 L461.3 212.6 Q464.0 211.2 466.7 212.6 L467.1 213.6 Z M467.9 213.6 L468.3 212.6 Q471.0 211.2 473.7 212.6 L474.1 213.6 Z M474.9 213.6 L475.3 212.6 Q478.0 211.2 480.7 212.6 L481.1 213.6 Z M481.9 213.6 L482.3 212.6 Q485.0 211.2 487.7 212.6 L488.1 213.6 Z M488.9 213.6 L489.3 212.6 Q492.0 211.2 494.7 212.6 L495.1 213.6 Z M495.9 213.6 L496.3 212.6 Q499.0 211.2 501.7 212.6 L502.1 213.6 Z M502.9 213.6 L503.3 212.6 Q506.0 211.2 508.7 212.6 L509.1 213.6 Z M509.9 213.6 L510.3 212.6 Q513.0 211.2 515.7 212.6 L516.1 213.6 Z M516.9 213.6 L517.3 212.6 Q520.0 211.2 522.7 212.6 L523.1 213.6 Z M523.9 213.6 L524.3 212.6 Q527.0 211.2 529.7 212.6 L530.1 213.6 Z M530.9 213.6 L531.3 212.6 Q534.0 211.2 536.7 212.6 L537.1 213.6 Z M537.9 213.6 L538.3 212.6 Q541.0 211.2 543.7 212.6 L544.1 213.6 Z M544.9 213.6 L545.3 212.6 Q548.0 211.2 550.7 212.6 L551.1 213.6 Z M551.9 213.6 L552.3 212.6 Q555.0 211.2 557.7 212.6 L558.1 213.6 Z M558.9 213.6 L559.3 212.6 Q562.0 211.2 564.7 212.6 L565.1 213.6 Z M565.9 213.6 L566.3 212.6 Q569.0 211.2 571.7 212.6 L572.1 213.6 Z M572.9 213.6 L573.3 212.6 Q576.0 211.2 578.7 212.6 L579.1 213.6 Z M579.9 213.6 L580.3 212.6 Q583.0 211.2 585.7 212.6 L586.1 213.6 Z M586.9 213.6 L587.3 212.6 Q590.0 211.2 592.7 212.6 L593.1 213.6 Z M593.9 213.6 L594.3 212.6 Q597.0 211.2 599.7 212.6 L600.1 213.6 Z M600.9 213.6 L601.3 212.6 Q604.0 211.2 606.7 212.6 L607.1 213.6 Z M607.9 213.6 L608.3 212.6 Q611.0 211.2 613.7 212.6 L614.1 213.6 Z M614.9 213.6 L615.3 212.6 Q618.0 211.2 620.7 212.6 L621.1 213.6 Z M621.9 213.6 L622.3 212.6 Q625.0 211.2 627.7 212.6 L628.1 213.6 Z M628.9 213.6 L629.3 212.6 Q632.0 211.2 634.7 212.6 L635.1 213.6 Z " fill="#2b2d7e"/><path d="M103.5 213 V231.5 M110.5 213 V231.5 M117.5 213 V231.5 M124.5 213 V231.5 M131.5 213 V231.5 M138.5 213 V231.5 M145.5 213 V231.5 M152.5 213 V231.5 M159.5 213 V231.5 M166.5 213 V231.5 M173.5 213 V231.5 M180.5 213 V231.5 M187.5 213 V231.5 M194.5 213 V231.5 M201.5 213 V231.5 M208.5 213 V231.5 M215.5 213 V231.5 M222.5 213 V231.5 M229.5 213 V231.5 M236.5 213 V231.5 M243.5 213 V231.5 M250.5 213 V231.5 M257.5 213 V231.5 M264.5 213 V231.5 M271.5 213 V231.5 M278.5 213 V231.5 M285.5 213 V231.5 M292.5 213 V231.5 M299.5 213 V231.5 M306.5 213 V231.5 M313.5 213 V231.5 M320.5 213 V231.5 M327.5 213 V231.5 M334.5 213 V231.5 M341.5 213 V231.5 M348.5 213 V231.5 M355.5 213 V231.5 M362.5 213 V231.5 M369.5 213 V231.5 M376.5 213 V231.5 M383.5 213 V231.5 M390.5 213 V231.5 M397.5 213 V231.5 M404.5 213 V231.5 M411.5 213 V231.5 M418.5 213 V231.5 M425.5 213 V231.5 M432.5 213 V231.5 M439.5 213 V231.5 M446.5 213 V231.5 M453.5 213 V231.5 M460.5 213 V231.5 M467.5 213 V231.5 M474.5 213 V231.5 M481.5 213 V231.5 M488.5 213 V231.5 M495.5 213 V231.5 M502.5 213 V231.5 M509.5 213 V231.5 M516.5 213 V231.5 M523.5 213 V231.5 M530.5 213 V231.5 M537.5 213 V231.5 M544.5 213 V231.5 M551.5 213 V231.5 M558.5 213 V231.5 M565.5 213 V231.5 M572.5 213 V231.5 M579.5 213 V231.5 M586.5 213 V231.5 M593.5 213 V231.5 M600.5 213 V231.5 M607.5 213 V231.5 M614.5 213 V231.5 M621.5 213 V231.5 M628.5 213 V231.5 " stroke="#5456a6" stroke-width="0.8" fill="none" opacity="0.8"/></g><path d="M257 231.6 Q259 228.5 262 229 Q264 226.5 267 227 Q270 226.8 272 229 Q275 229.5 277 228.6 Q279 226.4 282 226.6 Q285 226 287 224.5 Q289 223.6 291 222 Q293 220 295 219.8 Q297.4 220 298.4 222.6 Q300 225.6 301 227.6 Q302.6 229.6 303.6 231.6 Z" fill="#64932a"/><path d="M371 231.6 Q373 228 377 227.6 Q380 225.8 383 226.6 Q387 226.4 390 228.2 Q393 228.6 395 227.4 Q398 225 400.6 223.4 Q403 221 406 220.4 Q408.6 220.8 409.6 223.4 Q411.6 226.4 413 228.2 Q414.6 229.8 415.6 231.6 Z" fill="#64932a"/>
<rect x="0" y="231.3" width="630" height="14" fill="url(#band)"/>
<rect x="0" y="245" width="630" height="21.5" fill="url(#grass)"/>
<rect x="138.6" y="205" width="3" height="26" fill="#6d3a2c"/><path d="M110 242.8 Q111 240.4 114 240.6 Q116 238.4 118.4 239.6 Q121 238.6 123 239.4 Q125 236.6 127.4 236.4 Q128.4 233 130.4 231 Q131.4 226.4 133 224.4 Q135 226 135.6 229.6 Q137.4 231.6 138.4 233.6 Q140 230 142 229.8 Q144.4 231 144.6 234 Q146.6 235.6 147 238 Q149.6 238.4 150 240.4 Q151.6 241 152 242.8 Z" fill="#5f8c22"/>
<path d="M0.0 267 L0.6 258.6 L1.6 267 Z M1.6 267 L2.3 260.3 L3.2 267 Z M3.3 267 L2.7 256.5 L4.9 267 Z M4.8 267 L5.0 258.3 L6.4 267 Z M6.6 267 L6.6 258.8 L8.2 267 Z M8.3 267 L8.0 258.2 L9.9 267 Z M9.5 267 L8.5 259.0 L11.1 267 Z M11.0 267 L11.0 257.6 L12.6 267 Z M12.6 267 L13.0 256.4 L14.2 267 Z M14.1 267 L13.1 261.3 L15.7 267 Z M15.9 267 L15.3 260.3 L17.5 267 Z M17.6 267 L16.8 257.5 L19.2 267 Z M18.8 267 L18.4 260.5 L20.4 267 Z M19.7 267 L19.4 258.9 L21.3 267 Z M21.0 267 L20.1 260.9 L22.6 267 Z M21.9 267 L22.8 256.8 L23.5 267 Z M23.3 267 L22.5 261.3 L24.9 267 Z M24.3 267 L23.3 260.1 L25.9 267 Z M25.5 267 L24.8 260.8 L27.1 267 Z M27.0 267 L27.1 259.3 L28.6 267 Z M28.2 267 L29.2 258.8 L29.8 267 Z M29.4 267 L29.5 261.6 L31.0 267 Z M30.6 267 L29.7 257.3 L32.2 267 Z M32.3 267 L32.6 261.9 L33.9 267 Z M33.6 267 L34.9 260.1 L35.2 267 Z M35.1 267 L35.3 261.0 L36.7 267 Z M36.6 267 L35.6 261.8 L38.2 267 Z M38.0 267 L38.1 257.6 L39.6 267 Z M39.3 267 L38.8 259.0 L40.9 267 Z M41.0 267 L41.1 256.2 L42.6 267 Z M41.9 267 L42.9 259.6 L43.5 267 Z M43.1 267 L42.4 261.4 L44.7 267 Z M44.6 267 L44.2 258.3 L46.2 267 Z M46.1 267 L47.6 257.4 L47.7 267 Z M47.7 267 L48.8 259.4 L49.3 267 Z M49.5 267 L50.4 256.8 L51.1 267 Z M50.9 267 L52.1 258.9 L52.5 267 Z M52.4 267 L51.8 257.7 L54.0 267 Z M53.3 267 L53.8 260.4 L54.9 267 Z M54.8 267 L54.1 260.8 L56.4 267 Z M56.5 267 L57.9 261.6 L58.1 267 Z M58.1 267 L59.7 258.6 L59.7 267 Z M59.6 267 L61.1 262.0 L61.2 267 Z M60.9 267 L62.0 256.5 L62.5 267 Z M61.9 267 L60.8 261.8 L63.5 267 Z M63.5 267 L63.0 257.3 L65.1 267 Z M64.5 267 L65.6 259.8 L66.1 267 Z M66.1 267 L67.6 256.8 L67.7 267 Z M67.7 267 L66.5 257.0 L69.3 267 Z M68.6 267 L69.1 256.8 L70.2 267 Z M69.8 267 L69.5 261.2 L71.4 267 Z M71.0 267 L71.0 259.0 L72.6 267 Z M72.1 267 L71.4 261.5 L73.7 267 Z M73.1 267 L73.0 261.4 L74.7 267 Z M74.1 267 L74.4 257.2 L75.7 267 Z M75.4 267 L74.9 258.2 L77.0 267 Z M76.3 267 L76.1 261.5 L77.9 267 Z M77.5 267 L77.2 260.5 L79.1 267 Z M79.2 267 L79.3 261.9 L80.8 267 Z M80.4 267 L81.3 260.3 L82.0 267 Z M81.5 267 L80.8 261.7 L83.1 267 Z M83.3 267 L82.5 259.9 L84.9 267 Z M85.1 267 L86.6 258.1 L86.7 267 Z M86.3 267 L85.2 257.1 L87.9 267 Z M87.4 267 L87.7 257.2 L89.0 267 Z M89.0 267 L90.3 259.7 L90.6 267 Z M90.0 267 L89.3 258.3 L91.6 267 Z M91.1 267 L91.1 256.7 L92.7 267 Z M92.7 267 L93.5 260.3 L94.3 267 Z M94.4 267 L93.9 258.2 L96.0 267 Z M95.9 267 L97.0 256.3 L97.5 267 Z M97.2 267 L96.3 259.6 L98.8 267 Z M98.8 267 L98.2 261.1 L100.4 267 Z M99.7 267 L99.6 261.0 L101.3 267 Z M101.1 267 L101.1 260.9 L102.7 267 Z M102.7 267 L101.8 261.4 L104.3 267 Z M104.0 267 L105.4 256.6 L105.6 267 Z M105.4 267 L106.7 261.5 L107.0 267 Z M107.2 267 L107.5 256.6 L108.8 267 Z M108.5 267 L109.5 258.5 L110.1 267 Z M110.3 267 L110.5 259.0 L111.9 267 Z M111.4 267 L111.8 258.8 L113.0 267 Z M112.6 267 L114.0 259.3 L114.2 267 Z M113.7 267 L113.4 260.5 L115.3 267 Z M115.4 267 L116.5 260.2 L117.0 267 Z M117.1 267 L118.2 256.7 L118.7 267 Z M118.2 267 L119.3 259.3 L119.8 267 Z M119.3 267 L120.6 258.4 L120.9 267 Z M121.1 267 L120.2 259.9 L122.7 267 Z M122.0 267 L122.3 260.1 L123.6 267 Z M123.1 267 L123.8 257.1 L124.7 267 Z M124.6 267 L124.3 257.0 L126.2 267 Z M126.1 267 L125.7 259.9 L127.7 267 Z M127.1 267 L128.4 257.3 L128.7 267 Z M128.0 267 L127.0 257.7 L129.6 267 Z M129.3 267 L130.6 260.1 L130.9 267 Z M130.6 267 L130.4 258.9 L132.2 267 Z M131.7 267 L130.7 260.5 L133.3 267 Z M132.6 267 L133.5 258.7 L134.2 267 Z M134.1 267 L135.7 260.4 L135.7 267 Z M135.1 267 L134.8 259.4 L136.7 267 Z M136.2 267 L137.0 256.2 L137.8 267 Z M137.2 267 L138.2 260.9 L138.8 267 Z M138.4 267 L138.0 260.2 L140.0 267 Z M139.6 267 L139.3 258.5 L141.2 267 Z M141.0 267 L141.3 261.6 L142.6 267 Z M142.5 267 L143.7 260.1 L144.1 267 Z M144.2 267 L144.2 258.1 L145.8 267 Z M145.2 267 L144.9 258.2 L146.8 267 Z M146.3 267 L145.7 258.8 L147.9 267 Z M147.8 267 L146.6 257.4 L149.4 267 Z M149.2 267 L149.0 260.9 L150.8 267 Z M150.8 267 L150.5 256.2 L152.4 267 Z M152.4 267 L153.8 259.9 L154.0 267 Z M153.4 267 L152.5 258.0 L155.0 267 Z M154.8 267 L156.2 257.5 L156.4 267 Z M156.4 267 L156.3 258.7 L158.0 267 Z M157.9 267 L158.4 258.1 L159.5 267 Z M159.4 267 L160.9 257.5 L161.0 267 Z M160.9 267 L161.8 256.7 L162.5 267 Z M162.1 267 L162.0 257.2 L163.7 267 Z M163.8 267 L165.1 256.7 L165.4 267 Z M165.5 267 L165.7 257.8 L167.1 267 Z M166.7 267 L168.0 258.2 L168.3 267 Z M167.9 267 L168.8 260.7 L169.5 267 Z M169.6 267 L168.8 260.8 L171.2 267 Z M170.6 267 L171.7 258.7 L172.2 267 Z M171.7 267 L170.7 257.3 L173.3 267 Z M172.8 267 L173.7 258.7 L174.4 267 Z M174.2 267 L174.0 257.9 L175.8 267 Z M175.4 267 L174.2 258.9 L177.0 267 Z M176.5 267 L177.1 259.9 L178.1 267 Z M177.6 267 L179.1 260.5 L179.2 267 Z M179.0 267 L180.0 259.5 L180.6 267 Z M180.6 267 L180.9 257.1 L182.2 267 Z M182.0 267 L182.0 261.4 L183.6 267 Z M183.3 267 L183.1 260.5 L184.9 267 Z M185.0 267 L184.1 260.7 L186.6 267 Z M186.2 267 L185.1 261.0 L187.8 267 Z M187.9 267 L186.8 258.7 L189.5 267 Z M189.3 267 L189.4 261.0 L190.9 267 Z M191.0 267 L190.9 256.1 L192.6 267 Z M192.6 267 L191.7 259.0 L194.2 267 Z M193.9 267 L194.9 257.1 L195.5 267 Z M195.5 267 L195.3 256.1 L197.1 267 Z M197.0 267 L198.4 257.1 L198.6 267 Z M198.7 267 L198.4 256.8 L200.3 267 Z M199.9 267 L199.0 258.3 L201.5 267 Z M201.1 267 L200.5 259.8 L202.7 267 Z M202.1 267 L201.8 258.1 L203.7 267 Z M203.1 267 L204.6 257.2 L204.7 267 Z M204.2 267 L203.2 257.9 L205.8 267 Z M205.3 267 L205.9 261.0 L206.9 267 Z M206.7 267 L207.4 257.1 L208.3 267 Z M208.3 267 L208.7 256.8 L209.9 267 Z M209.4 267 L210.6 261.0 L211.0 267 Z M211.0 267 L212.5 258.1 L212.6 267 Z M212.7 267 L212.0 259.6 L214.3 267 Z M213.9 267 L215.2 256.5 L215.5 267 Z M214.8 267 L214.9 262.0 L216.4 267 Z M216.6 267 L217.7 256.7 L218.2 267 Z M217.5 267 L218.5 260.8 L219.1 267 Z M218.8 267 L220.3 260.1 L220.4 267 Z M219.7 267 L221.0 259.1 L221.3 267 Z M221.3 267 L220.8 256.7 L222.9 267 Z M222.7 267 L221.8 256.1 L224.3 267 Z M224.0 267 L223.2 256.1 L225.6 267 Z M225.6 267 L225.1 257.5 L227.2 267 Z M227.3 267 L226.5 257.3 L228.9 267 Z M229.1 267 L229.3 256.7 L230.7 267 Z M230.1 267 L230.5 257.3 L231.7 267 Z M231.6 267 L231.8 261.5 L233.2 267 Z M233.3 267 L232.5 257.6 L234.9 267 Z M234.5 267 L234.5 259.3 L236.1 267 Z M236.2 267 L235.1 256.4 L237.8 267 Z M237.7 267 L238.9 261.2 L239.3 267 Z M239.1 267 L240.4 256.6 L240.7 267 Z M240.8 267 L239.8 261.0 L242.4 267 Z M242.4 267 L243.4 259.2 L244.0 267 Z M243.7 267 L244.6 259.5 L245.3 267 Z M244.9 267 L244.9 259.0 L246.5 267 Z M246.5 267 L246.5 261.6 L248.1 267 Z M247.9 267 L249.2 257.9 L249.5 267 Z M249.1 267 L249.9 256.2 L250.7 267 Z M250.4 267 L250.2 258.6 L252.0 267 Z M251.8 267 L253.2 261.9 L253.4 267 Z M253.1 267 L252.1 261.9 L254.7 267 Z M254.3 267 L255.4 260.4 L255.9 267 Z M255.5 267 L255.1 256.5 L257.1 267 Z M256.7 267 L257.9 256.3 L258.3 267 Z M258.5 267 L257.5 261.3 L260.1 267 Z M260.0 267 L259.1 260.0 L261.6 267 Z M261.0 267 L260.6 260.1 L262.6 267 Z M262.5 267 L261.7 256.1 L264.1 267 Z M264.1 267 L265.3 258.4 L265.7 267 Z M265.9 267 L265.0 256.5 L267.5 267 Z M267.4 267 L267.3 257.4 L269.0 267 Z M268.4 267 L268.9 257.4 L270.0 267 Z M270.0 267 L270.8 257.5 L271.6 267 Z M270.9 267 L272.4 256.4 L272.5 267 Z M272.1 267 L273.5 257.3 L273.7 267 Z M273.4 267 L273.9 260.0 L275.0 267 Z M275.0 267 L275.8 259.5 L276.6 267 Z M276.8 267 L278.1 259.8 L278.4 267 Z M277.8 267 L278.9 258.4 L279.4 267 Z M279.1 267 L278.6 260.3 L280.7 267 Z M280.3 267 L280.2 259.7 L281.9 267 Z M281.4 267 L280.8 258.4 L283.0 267 Z M282.5 267 L283.9 259.2 L284.1 267 Z M283.7 267 L284.7 260.9 L285.3 267 Z M285.1 267 L286.6 261.3 L286.7 267 Z M286.2 267 L285.7 258.2 L287.8 267 Z M287.8 267 L288.4 259.8 L289.4 267 Z M289.4 267 L289.1 257.8 L291.0 267 Z M290.6 267 L290.9 258.5 L292.2 267 Z M292.2 267 L291.1 261.6 L293.8 267 Z M293.1 267 L292.4 257.2 L294.7 267 Z M294.6 267 L296.1 259.3 L296.2 267 Z M296.1 267 L295.2 256.9 L297.7 267 Z M297.8 267 L296.7 259.7 L299.4 267 Z M299.5 267 L300.1 260.6 L301.1 267 Z M300.4 267 L300.5 259.4 L302.0 267 Z M301.7 267 L301.3 257.0 L303.3 267 Z M303.4 267 L304.9 261.0 L305.0 267 Z M304.6 267 L306.0 257.9 L306.2 267 Z M306.1 267 L305.1 256.9 L307.7 267 Z M307.9 267 L308.6 261.8 L309.5 267 Z M309.5 267 L310.4 257.4 L311.1 267 Z M311.0 267 L310.4 256.1 L312.6 267 Z M312.7 267 L312.0 257.2 L314.3 267 Z M314.0 267 L313.2 259.4 L315.6 267 Z M315.7 267 L316.6 256.9 L317.3 267 Z M316.6 267 L318.0 257.6 L318.2 267 Z M318.1 267 L319.6 256.4 L319.7 267 Z M319.7 267 L319.3 257.5 L321.3 267 Z M321.3 267 L320.8 260.1 L322.9 267 Z M322.5 267 L321.4 260.1 L324.1 267 Z M323.5 267 L322.9 260.3 L325.1 267 Z M324.4 267 L325.5 257.6 L326.0 267 Z M325.6 267 L326.9 257.7 L327.2 267 Z M326.5 267 L327.0 258.6 L328.1 267 Z M327.6 267 L328.7 256.6 L329.2 267 Z M329.0 267 L330.1 258.8 L330.6 267 Z M329.9 267 L330.2 256.7 L331.5 267 Z M331.1 267 L331.4 260.4 L332.7 267 Z M332.1 267 L332.0 257.0 L333.7 267 Z M333.8 267 L334.8 256.3 L335.4 267 Z M334.8 267 L335.4 260.5 L336.4 267 Z M336.5 267 L336.4 258.2 L338.1 267 Z M338.2 267 L338.6 259.2 L339.8 267 Z M339.5 267 L340.0 256.3 L341.1 267 Z M340.5 267 L340.4 258.1 L342.1 267 Z M341.5 267 L341.1 259.0 L343.1 267 Z M343.3 267 L343.6 260.7 L344.9 267 Z M344.2 267 L344.8 260.2 L345.8 267 Z M345.5 267 L346.0 258.0 L347.1 267 Z M347.0 267 L348.4 260.5 L348.6 267 Z M348.5 267 L349.6 261.8 L350.1 267 Z M349.5 267 L350.2 259.5 L351.1 267 Z M351.2 267 L350.9 261.0 L352.8 267 Z M352.6 267 L352.7 257.9 L354.2 267 Z M354.1 267 L353.1 256.1 L355.7 267 Z M355.4 267 L356.5 257.2 L357.0 267 Z M357.2 267 L356.7 260.0 L358.8 267 Z M358.7 267 L359.7 257.0 L360.3 267 Z M360.1 267 L360.8 261.2 L361.7 267 Z M361.2 267 L360.0 261.8 L362.8 267 Z M362.4 267 L362.7 259.8 L364.0 267 Z M363.7 267 L364.3 258.9 L365.3 267 Z M364.8 267 L365.4 257.2 L366.4 267 Z M366.4 267 L366.7 258.6 L368.0 267 Z M368.0 267 L367.6 258.0 L369.6 267 Z M369.7 267 L369.3 260.8 L371.3 267 Z M371.4 267 L370.6 259.3 L373.0 267 Z M373.1 267 L371.9 258.4 L374.7 267 Z M374.3 267 L373.9 259.9 L375.9 267 Z M375.8 267 L374.9 260.6 L377.4 267 Z M377.5 267 L377.6 258.5 L379.1 267 Z M379.2 267 L380.4 257.9 L380.8 267 Z M380.4 267 L380.1 260.2 L382.0 267 Z M381.7 267 L381.1 258.5 L383.3 267 Z M383.1 267 L384.0 256.4 L384.7 267 Z M384.0 267 L384.6 259.1 L385.6 267 Z M385.0 267 L386.0 256.1 L386.6 267 Z M386.4 267 L387.0 258.9 L388.0 267 Z M387.6 267 L387.9 258.5 L389.2 267 Z M388.9 267 L387.8 259.2 L390.5 267 Z M390.3 267 L389.9 260.6 L391.9 267 Z M391.3 267 L391.4 257.5 L392.9 267 Z M392.8 267 L393.2 258.9 L394.4 267 Z M394.0 267 L394.9 260.4 L395.6 267 Z M395.5 267 L394.7 261.1 L397.1 267 Z M396.8 267 L396.4 257.2 L398.4 267 Z M397.9 267 L398.1 259.4 L399.5 267 Z M399.3 267 L399.2 260.1 L400.9 267 Z M401.1 267 L400.5 257.5 L402.7 267 Z M402.5 267 L404.0 261.1 L404.1 267 Z M403.6 267 L403.0 256.4 L405.2 267 Z M404.7 267 L404.4 259.9 L406.3 267 Z M405.9 267 L405.9 259.6 L407.5 267 Z M406.9 267 L407.7 258.2 L408.5 267 Z M408.0 267 L406.9 261.2 L409.6 267 Z M409.1 267 L409.6 258.9 L410.7 267 Z M410.8 267 L410.1 257.1 L412.4 267 Z M412.0 267 L411.0 260.8 L413.6 267 Z M412.9 267 L414.4 258.7 L414.5 267 Z M414.7 267 L414.2 261.9 L416.3 267 Z M415.9 267 L415.0 256.8 L417.5 267 Z M417.2 267 L418.2 256.8 L418.8 267 Z M418.2 267 L418.9 258.9 L419.8 267 Z M419.3 267 L420.0 256.8 L420.9 267 Z M420.5 267 L419.5 260.0 L422.1 267 Z M422.2 267 L422.6 260.9 L423.8 267 Z M423.7 267 L424.8 258.4 L425.3 267 Z M424.9 267 L424.3 258.0 L426.5 267 Z M426.4 267 L426.5 257.5 L428.0 267 Z M428.0 267 L426.8 257.9 L429.6 267 Z M429.1 267 L429.8 260.7 L430.7 267 Z M430.7 267 L432.1 260.6 L432.3 267 Z M431.8 267 L433.0 259.4 L433.4 267 Z M432.9 267 L431.9 256.9 L434.5 267 Z M434.1 267 L434.7 257.0 L435.7 267 Z M435.1 267 L435.4 259.1 L436.7 267 Z M436.0 267 L434.9 256.4 L437.6 267 Z M437.8 267 L438.4 257.8 L439.4 267 Z M439.0 267 L439.2 260.5 L440.6 267 Z M440.8 267 L440.9 261.4 L442.4 267 Z M442.2 267 L443.0 256.2 L443.8 267 Z M444.0 267 L444.0 257.8 L445.6 267 Z M445.7 267 L446.6 261.8 L447.3 267 Z M446.6 267 L445.6 261.5 L448.2 267 Z M447.9 267 L448.9 257.2 L449.5 267 Z M449.4 267 L449.0 259.8 L451.0 267 Z M450.7 267 L450.9 260.0 L452.3 267 Z M452.2 267 L453.6 261.4 L453.8 267 Z M453.2 267 L452.0 256.8 L454.8 267 Z M454.1 267 L453.8 256.2 L455.7 267 Z M455.3 267 L454.4 257.4 L456.9 267 Z M456.8 267 L456.9 256.8 L458.4 267 Z M457.7 267 L459.0 261.1 L459.3 267 Z M458.8 267 L459.4 257.8 L460.4 267 Z M460.4 267 L460.7 258.1 L462.0 267 Z M462.0 267 L461.4 257.7 L463.6 267 Z M463.0 267 L463.4 258.5 L464.6 267 Z M464.5 267 L466.0 260.3 L466.1 267 Z M465.9 267 L465.2 259.5 L467.5 267 Z M467.0 267 L467.7 260.4 L468.6 267 Z M468.2 267 L467.9 257.1 L469.8 267 Z M469.9 267 L470.6 256.2 L471.5 267 Z M471.5 267 L471.6 260.3 L473.1 267 Z M472.8 267 L474.3 259.6 L474.4 267 Z M474.0 267 L474.8 256.2 L475.6 267 Z M475.1 267 L475.1 259.4 L476.7 267 Z M476.4 267 L477.0 256.3 L478.0 267 Z M477.8 267 L477.5 258.5 L479.4 267 Z M478.8 267 L479.8 259.7 L480.4 267 Z M480.4 267 L481.0 261.8 L482.0 267 Z M482.0 267 L483.5 258.2 L483.6 267 Z M483.2 267 L483.1 261.0 L484.8 267 Z M484.1 267 L484.1 256.9 L485.7 267 Z M485.6 267 L485.9 259.0 L487.2 267 Z M486.8 267 L488.1 257.3 L488.4 267 Z M488.6 267 L488.7 258.6 L490.2 267 Z M490.0 267 L489.8 256.2 L491.6 267 Z M490.9 267 L492.1 259.0 L492.5 267 Z M492.0 267 L492.5 259.9 L493.6 267 Z M493.4 267 L494.4 260.0 L495.0 267 Z M495.1 267 L496.3 257.8 L496.7 267 Z M496.1 267 L496.0 259.5 L497.7 267 Z M497.3 267 L498.7 259.4 L498.9 267 Z M498.8 267 L499.6 260.9 L500.4 267 Z M500.3 267 L500.1 260.5 L501.9 267 Z M501.3 267 L502.2 259.3 L502.9 267 Z M502.5 267 L502.0 260.1 L504.1 267 Z M504.3 267 L504.4 260.5 L505.9 267 Z M505.4 267 L506.4 259.1 L507.0 267 Z M507.1 267 L508.5 258.5 L508.7 267 Z M508.3 267 L508.1 257.9 L509.9 267 Z M509.4 267 L508.8 259.6 L511.0 267 Z M510.9 267 L511.7 261.0 L512.5 267 Z M512.4 267 L512.3 261.9 L514.0 267 Z M513.9 267 L514.5 258.1 L515.5 267 Z M514.8 267 L514.0 257.5 L516.4 267 Z M515.7 267 L515.8 257.5 L517.3 267 Z M516.8 267 L516.7 261.2 L518.4 267 Z M518.3 267 L518.6 261.8 L519.9 267 Z M519.6 267 L519.6 256.8 L521.2 267 Z M520.7 267 L519.7 258.4 L522.3 267 Z M521.7 267 L522.0 256.6 L523.3 267 Z M522.9 267 L522.1 260.7 L524.5 267 Z M524.1 267 L525.6 259.5 L525.7 267 Z M525.5 267 L525.7 259.7 L527.1 267 Z M526.6 267 L526.5 259.0 L528.2 267 Z M527.7 267 L528.7 259.8 L529.3 267 Z M528.7 267 L530.1 258.4 L530.3 267 Z M530.1 267 L531.4 259.3 L531.7 267 Z M531.7 267 L530.5 260.0 L533.3 267 Z M533.4 267 L533.1 259.3 L535.0 267 Z M534.3 267 L535.2 260.7 L535.9 267 Z M535.8 267 L536.7 261.1 L537.4 267 Z M537.4 267 L537.9 261.4 L539.0 267 Z M538.6 267 L538.2 259.7 L540.2 267 Z M539.9 267 L541.4 261.5 L541.5 267 Z M541.0 267 L539.9 256.1 L542.6 267 Z M542.2 267 L543.8 260.4 L543.8 267 Z M543.5 267 L543.3 256.0 L545.1 267 Z M544.5 267 L543.4 259.7 L546.1 267 Z M545.8 267 L545.2 261.0 L547.4 267 Z M546.8 267 L548.4 260.1 L548.4 267 Z M548.2 267 L549.3 258.2 L549.8 267 Z M549.5 267 L548.3 258.0 L551.1 267 Z M550.9 267 L550.7 257.0 L552.5 267 Z M551.9 267 L552.9 256.5 L553.5 267 Z M553.1 267 L552.9 261.3 L554.7 267 Z M554.4 267 L555.6 260.4 L556.0 267 Z M555.8 267 L556.1 257.1 L557.4 267 Z M557.5 267 L557.7 258.2 L559.1 267 Z M558.9 267 L559.4 256.9 L560.5 267 Z M560.3 267 L561.6 261.0 L561.9 267 Z M561.8 267 L561.7 256.1 L563.4 267 Z M562.9 267 L562.6 261.7 L564.5 267 Z M564.2 267 L565.0 260.5 L565.8 267 Z M565.3 267 L564.5 256.5 L566.9 267 Z M566.4 267 L567.4 261.3 L568.0 267 Z M568.1 267 L567.5 257.9 L569.7 267 Z M569.7 267 L569.2 257.8 L571.3 267 Z M571.4 267 L571.0 257.4 L573.0 267 Z M572.8 267 L571.9 261.9 L574.4 267 Z M573.8 267 L573.8 257.1 L575.4 267 Z M575.2 267 L574.8 256.5 L576.8 267 Z M576.2 267 L577.7 260.4 L577.8 267 Z M577.4 267 L576.4 261.7 L579.0 267 Z M578.7 267 L578.1 256.7 L580.3 267 Z M580.3 267 L581.8 259.8 L581.9 267 Z M581.7 267 L581.4 260.6 L583.3 267 Z M583.1 267 L583.2 259.6 L584.7 267 Z M584.9 267 L584.7 261.8 L586.5 267 Z M586.4 267 L587.7 256.6 L588.0 267 Z M587.7 267 L589.0 259.8 L589.3 267 Z M589.1 267 L588.2 256.3 L590.7 267 Z M590.7 267 L592.3 257.6 L592.3 267 Z M591.8 267 L593.0 258.4 L593.4 267 Z M593.1 267 L593.8 261.3 L594.7 267 Z M594.2 267 L595.7 261.0 L595.8 267 Z M595.5 267 L596.9 256.2 L597.1 267 Z M596.5 267 L597.4 260.6 L598.1 267 Z M597.6 267 L596.6 261.4 L599.2 267 Z M599.3 267 L600.5 256.6 L600.9 267 Z M600.5 267 L600.8 260.6 L602.1 267 Z M601.4 267 L602.8 260.7 L603.0 267 Z M603.2 267 L602.7 259.8 L604.8 267 Z M604.7 267 L605.1 256.6 L606.3 267 Z M606.1 267 L606.9 258.0 L607.7 267 Z M607.2 267 L607.4 260.0 L608.8 267 Z M608.5 267 L607.9 256.1 L610.1 267 Z M609.5 267 L611.0 258.7 L611.1 267 Z M611.2 267 L612.8 261.1 L612.8 267 Z M612.9 267 L612.4 260.4 L614.5 267 Z M614.0 267 L614.4 259.1 L615.6 267 Z M615.1 267 L615.4 259.0 L616.7 267 Z M616.1 267 L615.3 258.1 L617.7 267 Z M617.4 267 L616.6 260.8 L619.0 267 Z M618.9 267 L619.1 257.2 L620.5 267 Z M619.9 267 L621.1 260.9 L621.5 267 Z M621.3 267 L621.2 260.3 L622.9 267 Z M622.3 267 L621.1 258.5 L623.9 267 Z M623.9 267 L623.7 260.8 L625.5 267 Z M625.7 267 L625.4 261.6 L627.3 267 Z M627.2 267 L628.3 258.2 L628.8 267 Z M628.8 267 L629.8 259.3 L630.4 267 Z M629.9 267 L631.0 257.3 L631.5 267 Z M630.8 267 L630.6 257.4 L632.4 267 Z M631.8 267 L631.4 261.1 L633.4 267 Z " fill="#3c9c2e" opacity="0.85"/><path d="M0.0 267 L0.4 259.7 L1.3 267 Z M2.2 267 L1.7 262.6 L3.5 267 Z M3.9 267 L4.3 261.7 L5.2 267 Z M7.0 267 L7.9 260.2 L8.3 267 Z M9.6 267 L10.0 260.3 L10.9 267 Z M12.4 267 L11.6 260.1 L13.7 267 Z M14.0 267 L13.9 262.9 L15.3 267 Z M16.4 267 L16.8 263.7 L17.7 267 Z M19.1 267 L20.1 262.3 L20.4 267 Z M21.2 267 L22.3 262.3 L22.5 267 Z M23.2 267 L22.3 263.0 L24.5 267 Z M25.4 267 L25.2 261.1 L26.7 267 Z M28.0 267 L28.3 260.8 L29.3 267 Z M31.5 267 L30.7 260.3 L32.8 267 Z M34.9 267 L35.5 260.4 L36.2 267 Z M38.1 267 L37.6 259.7 L39.4 267 Z M40.4 267 L40.5 260.7 L41.7 267 Z M43.4 267 L43.9 261.8 L44.7 267 Z M45.7 267 L46.1 262.3 L47.0 267 Z M48.1 267 L48.0 262.2 L49.4 267 Z M50.3 267 L50.2 262.4 L51.6 267 Z M52.9 267 L52.8 263.3 L54.2 267 Z M55.8 267 L56.5 262.2 L57.1 267 Z M57.8 267 L57.8 261.7 L59.1 267 Z M60.0 267 L61.0 261.5 L61.3 267 Z M63.3 267 L64.1 263.4 L64.6 267 Z M66.1 267 L65.6 261.5 L67.4 267 Z M68.1 267 L67.4 261.8 L69.4 267 Z M71.4 267 L72.5 259.5 L72.7 267 Z M73.0 267 L74.2 263.2 L74.3 267 Z M75.7 267 L76.3 262.7 L77.0 267 Z M78.4 267 L79.3 260.4 L79.7 267 Z M80.4 267 L80.8 262.6 L81.7 267 Z M83.8 267 L84.1 261.3 L85.1 267 Z M86.3 267 L87.2 263.9 L87.6 267 Z M88.8 267 L88.0 263.0 L90.1 267 Z M91.2 267 L92.0 259.9 L92.5 267 Z M94.3 267 L94.8 259.2 L95.6 267 Z M96.4 267 L96.6 263.0 L97.7 267 Z M98.8 267 L99.9 262.9 L100.1 267 Z M100.5 267 L99.9 263.0 L101.8 267 Z M103.0 267 L102.5 260.4 L104.3 267 Z M104.9 267 L105.9 260.4 L106.2 267 Z M107.4 267 L107.7 259.5 L108.7 267 Z M109.9 267 L109.4 262.7 L111.2 267 Z M112.1 267 L112.6 259.4 L113.4 267 Z M115.1 267 L116.0 259.6 L116.4 267 Z M117.2 267 L116.3 263.1 L118.5 267 Z M120.1 267 L120.8 263.2 L121.4 267 Z M123.2 267 L124.1 263.2 L124.5 267 Z M125.4 267 L126.2 261.4 L126.7 267 Z M126.9 267 L126.5 262.9 L128.2 267 Z M130.1 267 L130.1 259.5 L131.4 267 Z M131.8 267 L131.5 259.9 L133.1 267 Z M134.6 267 L135.2 259.2 L135.9 267 Z M137.3 267 L137.5 261.0 L138.6 267 Z M139.9 267 L140.5 261.8 L141.2 267 Z M143.2 267 L142.7 263.9 L144.5 267 Z M146.1 267 L146.3 259.8 L147.4 267 Z M148.4 267 L148.8 262.8 L149.7 267 Z M150.0 267 L150.8 262.8 L151.3 267 Z M152.6 267 L151.9 261.0 L153.9 267 Z M154.2 267 L153.5 259.9 L155.5 267 Z M156.7 267 L156.6 261.1 L158.0 267 Z M158.9 267 L159.2 261.1 L160.2 267 Z M160.6 267 L161.1 262.3 L161.9 267 Z M163.3 267 L163.5 262.6 L164.6 267 Z M165.7 267 L165.0 263.6 L167.0 267 Z M168.7 267 L168.4 260.7 L170.0 267 Z M171.0 267 L170.2 262.9 L172.3 267 Z M173.1 267 L173.0 262.2 L174.4 267 Z M174.8 267 L174.8 260.0 L176.1 267 Z M176.3 267 L175.6 260.7 L177.6 267 Z M179.2 267 L179.3 261.8 L180.5 267 Z M181.4 267 L181.0 259.7 L182.7 267 Z M183.1 267 L183.7 261.2 L184.4 267 Z M185.1 267 L185.7 261.4 L186.4 267 Z M186.8 267 L186.5 259.8 L188.1 267 Z M189.3 267 L190.0 262.6 L190.6 267 Z M192.0 267 L191.8 261.9 L193.3 267 Z M195.1 267 L194.6 262.4 L196.4 267 Z M196.7 267 L197.6 259.6 L198.0 267 Z M199.8 267 L199.7 259.1 L201.1 267 Z M203.1 267 L202.6 260.9 L204.4 267 Z M205.3 267 L205.0 262.4 L206.6 267 Z M207.3 267 L208.4 262.3 L208.6 267 Z M208.9 267 L209.6 261.7 L210.2 267 Z M212.0 267 L212.8 263.8 L213.3 267 Z M214.1 267 L214.4 260.8 L215.4 267 Z M217.3 267 L218.0 259.4 L218.6 267 Z M219.1 267 L218.7 262.5 L220.4 267 Z M220.8 267 L220.3 262.7 L222.1 267 Z M224.2 267 L225.2 260.9 L225.5 267 Z M227.7 267 L228.3 259.7 L229.0 267 Z M229.9 267 L229.8 262.4 L231.2 267 Z M233.1 267 L233.2 262.5 L234.4 267 Z M236.1 267 L236.6 263.6 L237.4 267 Z M237.7 267 L238.2 262.7 L239.0 267 Z M240.5 267 L241.0 259.1 L241.8 267 Z M243.8 267 L243.3 260.0 L245.1 267 Z M247.3 267 L247.9 263.8 L248.6 267 Z M249.6 267 L249.3 262.8 L250.9 267 Z M252.5 267 L252.6 259.5 L253.8 267 Z M255.8 267 L256.7 262.3 L257.1 267 Z M259.2 267 L259.0 260.5 L260.5 267 Z M261.2 267 L262.0 263.3 L262.5 267 Z M264.4 267 L263.7 262.9 L265.7 267 Z M267.7 267 L267.8 259.9 L269.0 267 Z M269.2 267 L268.8 260.0 L270.5 267 Z M271.7 267 L272.6 263.1 L273.0 267 Z M274.5 267 L275.0 263.9 L275.8 267 Z M276.4 267 L276.0 260.2 L277.7 267 Z M279.0 267 L278.8 260.8 L280.3 267 Z M280.7 267 L279.9 262.1 L282.0 267 Z M283.9 267 L282.9 262.5 L285.2 267 Z M286.3 267 L286.8 261.8 L287.6 267 Z M288.7 267 L287.8 263.7 L290.0 267 Z M292.2 267 L292.1 261.1 L293.5 267 Z M294.1 267 L294.9 260.4 L295.4 267 Z M296.9 267 L296.5 263.0 L298.2 267 Z M300.1 267 L300.5 262.0 L301.4 267 Z M301.6 267 L302.5 261.1 L302.9 267 Z M304.8 267 L304.7 259.8 L306.1 267 Z M307.0 267 L306.9 261.5 L308.3 267 Z M309.8 267 L310.8 262.0 L311.1 267 Z M313.2 267 L313.7 261.8 L314.5 267 Z M316.5 267 L316.5 259.2 L317.8 267 Z M318.6 267 L317.7 264.0 L319.9 267 Z M321.1 267 L321.1 263.3 L322.4 267 Z M324.3 267 L324.4 262.4 L325.6 267 Z M327.7 267 L328.5 261.7 L329.0 267 Z M331.1 267 L330.7 262.5 L332.4 267 Z M334.2 267 L333.7 261.5 L335.5 267 Z M336.3 267 L336.0 260.7 L337.6 267 Z M339.1 267 L338.7 262.6 L340.4 267 Z M341.2 267 L340.6 259.9 L342.5 267 Z M343.1 267 L343.6 263.5 L344.4 267 Z M346.3 267 L347.5 262.7 L347.6 267 Z M349.2 267 L349.2 261.7 L350.5 267 Z M352.4 267 L353.0 261.0 L353.7 267 Z M354.2 267 L355.0 261.2 L355.5 267 Z M356.3 267 L355.9 262.5 L357.6 267 Z M358.2 267 L357.7 262.3 L359.5 267 Z M359.7 267 L359.6 261.8 L361.0 267 Z M362.4 267 L363.5 262.6 L363.7 267 Z M364.2 267 L363.4 261.6 L365.5 267 Z M366.7 267 L366.6 262.2 L368.0 267 Z M368.6 267 L369.0 262.1 L369.9 267 Z M370.7 267 L369.9 262.6 L372.0 267 Z M373.0 267 L373.5 262.9 L374.3 267 Z M375.5 267 L375.9 262.9 L376.8 267 Z M378.9 267 L378.9 261.5 L380.2 267 Z M381.6 267 L382.8 261.2 L382.9 267 Z M384.2 267 L384.6 263.7 L385.5 267 Z M386.9 267 L387.3 261.9 L388.2 267 Z M390.0 267 L389.6 261.7 L391.3 267 Z M391.6 267 L392.0 262.0 L392.9 267 Z M393.2 267 L393.4 259.3 L394.5 267 Z M395.2 267 L395.8 261.5 L396.5 267 Z M397.8 267 L398.6 262.2 L399.1 267 Z M400.8 267 L400.6 259.0 L402.1 267 Z M403.4 267 L403.2 263.5 L404.7 267 Z M406.6 267 L407.5 259.4 L407.9 267 Z M408.4 267 L408.9 262.5 L409.7 267 Z M411.8 267 L411.1 262.8 L413.1 267 Z M413.9 267 L413.3 262.3 L415.2 267 Z M415.6 267 L416.5 262.7 L416.9 267 Z M418.6 267 L418.9 260.0 L419.9 267 Z M421.2 267 L420.9 261.9 L422.5 267 Z M423.1 267 L423.2 263.9 L424.4 267 Z M425.4 267 L426.4 262.1 L426.7 267 Z M426.9 267 L427.6 263.4 L428.2 267 Z M429.3 267 L429.7 260.9 L430.6 267 Z M432.4 267 L433.2 259.7 L433.7 267 Z M435.2 267 L434.6 261.1 L436.5 267 Z M438.1 267 L438.8 261.3 L439.4 267 Z M439.9 267 L440.8 259.4 L441.2 267 Z M441.6 267 L442.6 259.4 L442.9 267 Z M443.2 267 L443.3 262.5 L444.5 267 Z M446.4 267 L445.7 259.8 L447.7 267 Z M449.5 267 L448.7 260.1 L450.8 267 Z M452.8 267 L452.1 262.4 L454.1 267 Z M455.8 267 L456.9 260.5 L457.1 267 Z M457.6 267 L457.2 263.0 L458.9 267 Z M461.0 267 L462.1 259.9 L462.3 267 Z M464.1 267 L464.9 259.2 L465.4 267 Z M466.7 267 L466.7 260.3 L468.0 267 Z M469.8 267 L469.3 263.8 L471.1 267 Z M471.6 267 L470.7 260.2 L472.9 267 Z M474.2 267 L474.7 259.3 L475.5 267 Z M477.2 267 L477.2 263.1 L478.5 267 Z M478.8 267 L477.9 261.6 L480.1 267 Z M480.9 267 L481.5 261.5 L482.2 267 Z M483.0 267 L483.1 260.2 L484.3 267 Z M485.8 267 L487.0 260.4 L487.1 267 Z M488.9 267 L489.7 259.2 L490.2 267 Z M492.0 267 L491.4 259.9 L493.3 267 Z M494.3 267 L495.4 261.6 L495.6 267 Z M497.5 267 L497.5 260.0 L498.8 267 Z M500.6 267 L500.8 260.6 L501.9 267 Z M502.5 267 L501.7 259.6 L503.8 267 Z M505.0 267 L505.5 260.7 L506.3 267 Z M507.3 267 L507.0 262.7 L508.6 267 Z M510.3 267 L511.4 259.3 L511.6 267 Z M512.7 267 L512.0 261.4 L514.0 267 Z M514.7 267 L515.0 263.6 L516.0 267 Z M516.8 267 L516.7 263.2 L518.1 267 Z M519.2 267 L520.4 263.6 L520.5 267 Z M521.0 267 L522.2 261.1 L522.3 267 Z M522.7 267 L523.5 262.9 L524.0 267 Z M525.9 267 L526.7 260.7 L527.2 267 Z M528.7 267 L528.3 260.0 L530.0 267 Z M531.9 267 L531.4 259.4 L533.2 267 Z M534.8 267 L534.7 263.5 L536.1 267 Z M538.3 267 L537.8 260.8 L539.6 267 Z M541.5 267 L542.2 260.6 L542.8 267 Z M544.5 267 L544.0 263.1 L545.8 267 Z M546.9 267 L546.6 263.9 L548.2 267 Z M549.8 267 L549.6 262.4 L551.1 267 Z M552.0 267 L551.5 259.8 L553.3 267 Z M555.2 267 L554.7 260.1 L556.5 267 Z M557.8 267 L558.1 261.6 L559.1 267 Z M560.6 267 L559.7 260.5 L561.9 267 Z M563.5 267 L563.7 262.8 L564.8 267 Z M565.1 267 L564.2 259.3 L566.4 267 Z M566.8 267 L566.0 263.5 L568.1 267 Z M568.3 267 L568.4 259.2 L569.6 267 Z M570.9 267 L569.9 259.3 L572.2 267 Z M573.7 267 L574.3 262.2 L575.0 267 Z M576.3 267 L577.0 259.7 L577.6 267 Z M579.7 267 L580.8 262.6 L581.0 267 Z M582.5 267 L583.7 263.7 L583.8 267 Z M584.7 267 L584.6 262.5 L586.0 267 Z M587.7 267 L587.6 261.5 L589.0 267 Z M591.0 267 L590.7 262.0 L592.3 267 Z M593.9 267 L593.4 259.8 L595.2 267 Z M597.1 267 L598.0 263.5 L598.4 267 Z M599.9 267 L600.3 261.1 L601.2 267 Z M602.5 267 L602.2 262.9 L603.8 267 Z M604.1 267 L605.1 262.1 L605.4 267 Z M606.1 267 L606.5 259.1 L607.4 267 Z M608.6 267 L608.7 260.7 L609.9 267 Z M612.0 267 L613.0 262.9 L613.3 267 Z M614.7 267 L615.5 260.8 L616.0 267 Z M616.2 267 L615.4 259.4 L617.5 267 Z M618.4 267 L617.8 263.1 L619.7 267 Z M620.1 267 L620.7 259.6 L621.4 267 Z M622.5 267 L622.3 259.4 L623.8 267 Z M625.3 267 L624.9 263.9 L626.6 267 Z M627.7 267 L628.5 263.1 L629.0 267 Z M630.0 267 L629.4 259.4 L631.3 267 Z " fill="#2f8627" opacity="0.8"/>
<rect x="0" y="265.5" width="630" height="242.6" fill="url(#soil)"/>
<rect x="0" y="265.5" width="630" height="242.6" fill="#000" filter="url(#noise)" opacity="0.55"/>
<g><path d="M0 131 L18 152 L18 246 L0 246 Z" fill="#a9c4a0"/><path d="M48.5 130.3 L84 130.3 L109.5 181.3 L57 181.3 Z" fill="#5e3a36"/><path d="M84 130.3 L109.5 181.3 L107.5 181.3 L82.6 131.5 Z" fill="#7a4f45"/><path d="M0 120 L43.8 120 L61.5 165 L60.4 167 L44 168 L24 146 L16.5 152 L0 131.6 Z" fill="#6a413a"/><path d="M43.8 120 L61.5 165 L59.3 165 L42.2 121.2 Z" fill="#4c2e2c"/><path d="M0 120 H43.8 L44.3 121.3 H0 Z" fill="#54332f"/><path d="M0 131.5 L16.5 150 L15 152 L0 135 Z" fill="#fff"/><rect x="55" y="184.5" width="28" height="45" fill="#77787c"/><rect x="82.7" y="184.5" width="15.5" height="62" fill="#9b9b9d"/><rect x="55" y="229" width="37.5" height="7.8" fill="#262a72"/><rect x="55" y="236.6" width="43" height="10" fill="#8b8b8b"/><path d="M59 181.3 H108.6 L108 184.6 H60 Z" fill="#fff"/><rect x="98" y="184.6" width="3.3" height="63.5" fill="#f4f6f2"/><path d="M0 170 L24 146 L54.5 180 L54.5 246 L0 246 Z" fill="#c7d7c3"/><path d="M26 147.5 L54.5 178.5 L54.5 184 L24 150 Z" fill="#a6bf9e"/><path d="M45.5 166.3 H60.2 V168.4 H47.5 Z" fill="#fff"/><path d="M48 168.4 H58 V176 L55 179 Z" fill="#b5cbb0"/><path d="M0 167.5 L24 143.3 L62.3 186 L59.6 187.6 L24 147.6 L0 172 Z" fill="#fff"/><path d="M11.5 195 V176 H36.5 V195 Z" fill="#fff"/><path d="M16.6 176 Q24 159.6 31.6 176 Z" fill="#fff"/><path d="M18.2 175.2 Q24 163 30 175.2 Z" fill="#8fb1b5"/><rect x="12.8" y="177" width="4.2" height="3" fill="#9bbcc0"/><rect x="12.8" y="181.2" width="4.2" height="6.2" fill="#a3c2c5"/><rect x="12.8" y="188.6" width="4.2" height="5.2" fill="#b4cfd1"/><rect x="18.0" y="177" width="5.3" height="3" fill="#9bbcc0"/><rect x="18.0" y="181.2" width="5.3" height="6.2" fill="#a3c2c5"/><rect x="18.0" y="188.6" width="5.3" height="5.2" fill="#b4cfd1"/><rect x="24.6" y="177" width="5.3" height="3" fill="#9bbcc0"/><rect x="24.6" y="181.2" width="5.3" height="6.2" fill="#a3c2c5"/><rect x="24.6" y="188.6" width="5.3" height="5.2" fill="#b4cfd1"/><rect x="31.0" y="177" width="4.2" height="3" fill="#9bbcc0"/><rect x="31.0" y="181.2" width="4.2" height="6.2" fill="#a3c2c5"/><rect x="31.0" y="188.6" width="4.2" height="5.2" fill="#b4cfd1"/><rect x="9.5" y="195" width="29" height="1.6" fill="#eef3ec"/><rect x="2" y="212.3" width="7.6" height="20" fill="#3d4a2e"/><rect x="3.5" y="213.9" width="4.6" height="16.8" fill="#dfe2bb"/><rect x="3.5" y="221.6" width="4.6" height="1" fill="#3d4a2e"/><rect x="38.3" y="212.3" width="7.8" height="20" fill="#3d4a2e"/><rect x="39.8" y="213.9" width="4.8" height="16.8" fill="#dfe2bb"/><rect x="39.8" y="221.6" width="4.8" height="1" fill="#3d4a2e"/><rect x="11" y="213" width="25.8" height="19" fill="#fff"/><rect x="12.2" y="214.4" width="4.6" height="3.6" fill="#9bbcc0"/><rect x="12.2" y="219.2" width="4.6" height="5" fill="#a3c2c5"/><rect x="12.2" y="225.4" width="4.6" height="5" fill="#b4cfd1"/><rect x="17.8" y="214.4" width="5.4" height="3.6" fill="#9bbcc0"/><rect x="17.8" y="219.2" width="5.4" height="5" fill="#a3c2c5"/><rect x="17.8" y="225.4" width="5.4" height="5" fill="#b4cfd1"/><rect x="24.2" y="214.4" width="5.4" height="3.6" fill="#9bbcc0"/><rect x="24.2" y="219.2" width="5.4" height="5" fill="#a3c2c5"/><rect x="24.2" y="225.4" width="5.4" height="5" fill="#b4cfd1"/><rect x="30.6" y="214.4" width="4.6" height="3.6" fill="#9bbcc0"/><rect x="30.6" y="219.2" width="4.6" height="5" fill="#a3c2c5"/><rect x="30.6" y="225.4" width="4.6" height="5" fill="#b4cfd1"/><rect x="9.3" y="232" width="29" height="1.8" fill="#eef3ec"/><ellipse cx="67" cy="197" rx="5.2" ry="7.2" fill="#c9c9cc"/><ellipse cx="67" cy="197" rx="4.2" ry="6.2" fill="#fbfbfb"/><path d="M59.5 210.6 H75.2 Q74.5 216 68.8 216.4 H65.8 Q60.3 216 59.5 210.6 Z" fill="#f5f5f7"/><path d="M65.4 216 H69.2 L68.8 230.2 H65.8 Z" fill="#e9e9ee"/><rect x="66.6" y="207.6" width="1.2" height="3.2" fill="#d8d8dc"/><path d="M85 215.6 H93.3 L92.8 226 H85.5 Z" fill="#f1f1f5"/><path d="M73 226.2 Q73.5 223.8 80 224 L90 224.6 L90 228 Q86 230 84.6 236 H77.2 Q77.5 230.5 73.6 228.6 Z" fill="#f7f7fa"/><path d="M73 226.2 Q80 228.6 90 227" stroke="#cfd0d8" stroke-width="0.7" fill="none"/><path d="M88 232.3 H96.8 V252" stroke="#d3a52c" stroke-width="3" fill="none" stroke-linejoin="round"/><rect x="94.6" y="249.4" width="4.8" height="2.8" fill="#c79a25"/><path d="M101.6 201.7 H106.9 V221.8 M101.6 222.4 H109.4 M104.4 217 V222" stroke="#dcebd8" stroke-width="1.1" fill="none"/><path d="M108.7 222 V251.6" stroke="#e6efe2" stroke-width="1.9" fill="none"/></g><g><path d="M0 257 L0 246 Q4 241.5 10 243 Q16 240.5 22 243 Q30 240.5 36 243.5 Q44 241 50 244 Q57 242.5 60.5 247 L61 257 Z" fill="#3f8a35"/><circle cx="9.8" cy="251.3" r="1.2" fill="#c9d6df"/><circle cx="50.2" cy="254.9" r="1.6" fill="#fbe6ea"/><circle cx="30.5" cy="249.1" r="1.6" fill="#f9d3da"/><circle cx="0.8" cy="254.2" r="1.0" fill="#fbe6ea"/><circle cx="47.2" cy="245.8" r="1.5" fill="#f9d3da"/><circle cx="26.0" cy="254.9" r="1.7" fill="#f6c4cf"/><circle cx="36.6" cy="243.4" r="1.4" fill="#e88aa2"/><circle cx="41.3" cy="250.8" r="0.9" fill="#e88aa2"/><circle cx="44.1" cy="244.1" r="1.7" fill="#f6c4cf"/><circle cx="27.0" cy="249.6" r="1.3" fill="#e88aa2"/><circle cx="9.0" cy="251.0" r="1.7" fill="#fbe6ea"/><circle cx="14.0" cy="252.4" r="1.5" fill="#f9d3da"/><circle cx="47.8" cy="250.9" r="1.7" fill="#f6c4cf"/><circle cx="58.8" cy="243.9" r="1.3" fill="#f4b6c4"/><circle cx="49.2" cy="245.4" r="1.7" fill="#f9d3da"/><circle cx="24.4" cy="247.4" r="1.4" fill="#fbe6ea"/><circle cx="18.9" cy="248.8" r="0.9" fill="#e88aa2"/><circle cx="5.5" cy="251.6" r="0.9" fill="#fbe6ea"/><circle cx="4.2" cy="250.2" r="1.1" fill="#f4b6c4"/><circle cx="36.2" cy="249.7" r="1.0" fill="#f4b6c4"/><circle cx="39.8" cy="250.5" r="1.7" fill="#f6c4cf"/><circle cx="20.6" cy="250.2" r="1.1" fill="#e88aa2"/><circle cx="10.0" cy="254.1" r="1.6" fill="#f9d3da"/><circle cx="22.3" cy="251.2" r="1.4" fill="#c9d6df"/><circle cx="39.1" cy="245.9" r="1.8" fill="#f9d3da"/><circle cx="35.1" cy="253.6" r="1.4" fill="#fbe6ea"/><circle cx="39.7" cy="254.2" r="1.0" fill="#f9d3da"/><circle cx="4.1" cy="252.7" r="1.6" fill="#f6c4cf"/><circle cx="3.4" cy="246.5" r="1.1" fill="#f6c4cf"/><circle cx="17.2" cy="248.0" r="1.3" fill="#f9d3da"/><circle cx="51.8" cy="250.7" r="1.8" fill="#f9d3da"/><circle cx="44.4" cy="248.7" r="1.0" fill="#e88aa2"/><circle cx="38.7" cy="253.9" r="0.9" fill="#fbe6ea"/><circle cx="12.6" cy="253.1" r="1.0" fill="#f6c4cf"/><circle cx="21.9" cy="252.3" r="1.4" fill="#fbe6ea"/><circle cx="50.5" cy="246.7" r="1.4" fill="#f4b6c4"/><circle cx="8.3" cy="251.6" r="1.5" fill="#fbe6ea"/><circle cx="56.8" cy="243.3" r="1.2" fill="#f4b6c4"/><circle cx="14.9" cy="254.5" r="1.1" fill="#fbe6ea"/><circle cx="24.1" cy="254.5" r="1.0" fill="#f9d3da"/><circle cx="5.6" cy="244.1" r="1.5" fill="#f4b6c4"/><circle cx="46.8" cy="243.9" r="1.5" fill="#f4b6c4"/><circle cx="7.5" cy="249.5" r="1.3" fill="#e88aa2"/><circle cx="52.8" cy="250.5" r="1.1" fill="#f9d3da"/><circle cx="22.5" cy="251.5" r="1.6" fill="#f4b6c4"/><circle cx="35.9" cy="249.1" r="1.6" fill="#c9d6df"/><circle cx="47.0" cy="243.1" r="1.7" fill="#fbe6ea"/><circle cx="23.7" cy="249.8" r="1.5" fill="#f6c4cf"/><circle cx="15.0" cy="251.4" r="1.6" fill="#e88aa2"/><circle cx="14.6" cy="244.9" r="1.7" fill="#c9d6df"/><circle cx="17.6" cy="249.0" r="1.3" fill="#f4b6c4"/><circle cx="34.1" cy="249.5" r="1.4" fill="#f4b6c4"/><circle cx="43.7" cy="254.6" r="1.2" fill="#e88aa2"/><circle cx="37.2" cy="252.1" r="1.0" fill="#f9d3da"/><circle cx="48.5" cy="254.7" r="1.0" fill="#e88aa2"/><circle cx="39.1" cy="248.0" r="1.0" fill="#f6c4cf"/><circle cx="4.4" cy="252.8" r="1.8" fill="#f6c4cf"/><circle cx="30.1" cy="254.4" r="1.5" fill="#c9d6df"/><circle cx="26.3" cy="249.2" r="1.7" fill="#fbe6ea"/><circle cx="4.2" cy="243.3" r="1.3" fill="#c9d6df"/><circle cx="14.7" cy="251.5" r="1.3" fill="#f6c4cf"/><circle cx="25.4" cy="252.6" r="1.2" fill="#fbe6ea"/><circle cx="29.0" cy="250.6" r="1.0" fill="#c9d6df"/><circle cx="28.5" cy="248.9" r="1.4" fill="#c9d6df"/><circle cx="12.8" cy="248.4" r="1.6" fill="#c9d6df"/><circle cx="39.7" cy="253.3" r="1.6" fill="#c9d6df"/><circle cx="15.6" cy="248.8" r="1.2" fill="#fbe6ea"/><circle cx="36.6" cy="252.9" r="1.8" fill="#c9d6df"/><circle cx="0.4" cy="246.8" r="1.7" fill="#e88aa2"/><circle cx="42.6" cy="244.1" r="1.0" fill="#f9d3da"/><circle cx="18.0" cy="254.3" r="1.6" fill="#c9d6df"/><circle cx="58.5" cy="254.9" r="1.5" fill="#f9d3da"/><circle cx="12.2" cy="247.0" r="1.4" fill="#c9d6df"/><circle cx="11.2" cy="244.0" r="1.2" fill="#f4b6c4"/><circle cx="15.1" cy="253.1" r="1.7" fill="#f9d3da"/><circle cx="30.2" cy="245.9" r="1.1" fill="#c9d6df"/><circle cx="22.6" cy="254.3" r="1.3" fill="#fbe6ea"/><circle cx="27.4" cy="251.0" r="1.1" fill="#c9d6df"/><circle cx="22.9" cy="246.3" r="1.8" fill="#f9d3da"/><circle cx="12.8" cy="247.2" r="1.7" fill="#c9d6df"/><circle cx="41.9" cy="243.2" r="1.4" fill="#f4b6c4"/><circle cx="23.7" cy="248.3" r="1.1" fill="#fbe6ea"/><circle cx="0.5" cy="249.5" r="1.8" fill="#f4b6c4"/><circle cx="11.3" cy="247.4" r="1.2" fill="#f4b6c4"/><circle cx="8.0" cy="252.5" r="1.3" fill="#f6c4cf"/><circle cx="50.0" cy="246.7" r="1.3" fill="#fbe6ea"/><circle cx="32.8" cy="245.7" r="1.6" fill="#f6c4cf"/><circle cx="34.8" cy="248.6" r="0.9" fill="#f6c4cf"/><circle cx="34.6" cy="244.0" r="1.6" fill="#f6c4cf"/><circle cx="45.2" cy="245.3" r="1.3" fill="#f4b6c4"/><circle cx="31.3" cy="249.4" r="1.3" fill="#fbe6ea"/><circle cx="47.6" cy="247.1" r="1.0" fill="#e88aa2"/><circle cx="17.1" cy="250.7" r="1.7" fill="#f4b6c4"/><circle cx="4.2" cy="243.8" r="1.0" fill="#f4b6c4"/><circle cx="49.3" cy="247.3" r="1.0" fill="#e88aa2"/></g>
<g><path d="M100.8 266 V302.6 H174" stroke="#c99a28" stroke-width="4.8" fill="none" stroke-linejoin="round"/><path d="M100 266 V301.7 H174" stroke="#dcae35" stroke-width="1.6" fill="none" stroke-linejoin="round" opacity="0.9"/><rect x="98.4" y="251" width="4.8" height="15" fill="#c99a28" opacity="0.22"/></g>
<g><g><path d="M154.0 379.0 L206.0 415.5 L278.0 387.8 L278.0 390.4 L206.0 418.1 L154.0 381.6 Z" fill="#b3c09a"/><path d="M206.0 415.5 L278.0 387.8 L278.0 390.4 L206.0 418.1 Z" fill="#c3cfac"/><path d="M154.0 379.0 L206.0 415.5 L278.0 387.8 L226.0 351.3 Z" fill="#d9e4c4"/></g><ellipse cx="218.7" cy="391.5" rx="46.6" ry="16.8" fill="#a9b78e" opacity="0.6"/><path d="M170.10 292.00 A44.60 10.60 0 0 0 259.30 292.00 L258.50 389.00 A43.80 16.80 0 0 1 170.90 389.00 Z" fill="url(#body)"/><g transform="translate(0.00 0.00)"><clipPath id="cut0"><path d="M178.6 299.8 C180.2 322 182.4 342 186.2 354 C190.2 367.0 195.6 377.0 203.4 383.2 C210 388.0 216 390.2 223 390.3 C236 390.6 247 389.2 253.8 385.8 L253.8 299.8 Z"/></clipPath><path d="M178.6 299.8 C180.2 322 182.4 342 186.2 354 C190.2 367.0 195.6 377.0 203.4 383.2 C210 388.0 216 390.2 223 390.3 C236 390.6 247 389.2 253.8 385.8 L253.8 299.8 Z" fill="#e9eed8" stroke="#e9eed8" stroke-width="2.6" stroke-linejoin="round"/><g clip-path="url(#cut0)"><rect x="170" y="295" width="92" height="100" fill="#dde8e6"/><rect x="183" y="296" width="2.4" height="92" fill="#f3f7f3" opacity="0.7"/><rect x="190" y="296" width="2.4" height="92" fill="#f3f7f3" opacity="0.7"/><rect x="201" y="296" width="2.4" height="92" fill="#f3f7f3" opacity="0.7"/><rect x="226" y="296" width="2.4" height="92" fill="#f3f7f3" opacity="0.7"/><rect x="238" y="296" width="2.4" height="92" fill="#f3f7f3" opacity="0.7"/><rect x="247" y="296" width="2.4" height="92" fill="#f3f7f3" opacity="0.7"/><rect x="170" y="312.4" width="48.6" height="82" fill="url(#water)"/><rect x="218.6" y="300" width="40" height="95" fill="#bdd9ee"/><rect x="218.6" y="352" width="40" height="45" fill="url(#water)" opacity="0.9"/><path d="M236 300 Q257 312 256 338 L256 300 Z" fill="#eef5f8" opacity="0.6"/><path d="M240 318 Q252 322 256 334 L256 344 Q248 340 241 330 Z" fill="#e3eff6" opacity="0.55"/><rect x="222" y="300" width="4" height="86" fill="#b9d6ea" opacity="0.8"/><path d="M196 380.0 Q215 374.0 256 378.0 L256 395 L196 395 Z" fill="#3e9fe0"/><path d="M186 372 Q200 376 214 374 L214 380 Q200 384 190 380 Z" fill="#6bb8ea" opacity="0.8"/><path d="M191.6 313.6 H199.8 V364.6 Q199.8 367 197.4 367 H194 Q191.6 367 191.6 364.6 Z" fill="#7fa9cf"/><rect x="193.6" y="313.6" width="4.2" height="51" fill="#c3def1"/><rect x="191.4" y="313.6" width="0.8" height="51" fill="#5d88b3"/><rect x="199.2" y="313.6" width="0.8" height="51" fill="#5d88b3"/><rect x="198.8" y="306.2" width="8.8" height="3.2" fill="#46555a"/><rect x="207.6" y="313" width="8.8" height="30.4" fill="#9fc39b"/><rect x="209" y="343" width="1.5" height="44" fill="#e8f0f4"/><circle cx="203.1" cy="360.7" r="0.7" fill="#fff" opacity="0.95"/><circle cx="202.5" cy="358.7" r="0.8" fill="#fff" opacity="0.95"/><circle cx="209.9" cy="377.0" r="0.9" fill="#fff" opacity="0.95"/><circle cx="205.4" cy="360.3" r="0.7" fill="#fff" opacity="0.95"/><circle cx="202.8" cy="359.1" r="0.7" fill="#fff" opacity="0.95"/><circle cx="210.1" cy="377.3" r="1.0" fill="#fff" opacity="0.95"/><circle cx="206.0" cy="374.2" r="0.7" fill="#fff" opacity="0.95"/><circle cx="208.2" cy="370.0" r="1.0" fill="#fff" opacity="0.95"/><circle cx="205.8" cy="376.1" r="0.9" fill="#fff" opacity="0.95"/><circle cx="207.2" cy="371.1" r="0.6" fill="#fff" opacity="0.95"/><circle cx="204.0" cy="366.4" r="1.0" fill="#fff" opacity="0.95"/><circle cx="208.3" cy="375.8" r="0.7" fill="#fff" opacity="0.95"/><circle cx="208.6" cy="376.8" r="1.0" fill="#fff" opacity="0.95"/><circle cx="208.0" cy="375.4" r="0.8" fill="#fff" opacity="0.95"/><circle cx="206.5" cy="369.4" r="0.6" fill="#fff" opacity="0.95"/><circle cx="207.3" cy="362.3" r="0.6" fill="#fff" opacity="0.95"/><circle cx="205.1" cy="356.1" r="0.7" fill="#fff" opacity="0.95"/><circle cx="206.4" cy="367.8" r="0.7" fill="#fff" opacity="0.95"/><circle cx="206.9" cy="378.9" r="0.8" fill="#fff" opacity="0.95"/><circle cx="205.9" cy="359.9" r="0.7" fill="#fff" opacity="0.95"/><circle cx="207.1" cy="363.5" r="0.7" fill="#fff" opacity="0.95"/><circle cx="208.9" cy="368.4" r="0.6" fill="#fff" opacity="0.95"/><circle cx="203.0" cy="356.5" r="0.9" fill="#fff" opacity="0.95"/><circle cx="205.5" cy="369.8" r="0.7" fill="#fff" opacity="0.95"/><circle cx="204.8" cy="359.3" r="0.6" fill="#fff" opacity="0.95"/><circle cx="209.4" cy="371.7" r="1.0" fill="#fff" opacity="0.95"/><circle cx="210.0" cy="372.6" r="0.6" fill="#fff" opacity="0.95"/><circle cx="208.1" cy="361.9" r="0.9" fill="#fff" opacity="0.95"/><circle cx="208.5" cy="364.9" r="0.9" fill="#fff" opacity="0.95"/><circle cx="206.6" cy="374.6" r="0.6" fill="#fff" opacity="0.95"/><circle cx="204.2" cy="365.7" r="0.7" fill="#fff" opacity="0.95"/><circle cx="207.5" cy="378.1" r="0.6" fill="#fff" opacity="0.95"/><circle cx="202.6" cy="356.1" r="0.9" fill="#fff" opacity="0.95"/><circle cx="204.7" cy="363.7" r="0.6" fill="#fff" opacity="0.95"/><circle cx="186.9" cy="331.6" r="0.5" fill="#fff" opacity="0.8"/><circle cx="182.2" cy="319.9" r="0.5" fill="#fff" opacity="0.8"/><circle cx="181.3" cy="323.4" r="0.5" fill="#fff" opacity="0.8"/><circle cx="185.1" cy="322.8" r="0.5" fill="#fff" opacity="0.8"/><circle cx="181.2" cy="333.7" r="0.5" fill="#fff" opacity="0.8"/><circle cx="182.5" cy="349.9" r="0.5" fill="#fff" opacity="0.8"/><circle cx="181.7" cy="334.9" r="0.5" fill="#fff" opacity="0.8"/><circle cx="185.6" cy="331.1" r="0.5" fill="#fff" opacity="0.8"/><circle cx="186.9" cy="333.3" r="0.5" fill="#fff" opacity="0.8"/><circle cx="182.5" cy="331.1" r="0.5" fill="#fff" opacity="0.8"/><path d="M178 297 C180.2 322 182.4 342 186.2 354 C190.2 367 195.6 377 203.4 383.2 L206 381.4 C199 376 194.6 366 191 353 C187.6 340 185.8 320 184.8 297 Z" fill="#e9f1ec" opacity="0.8"/><rect x="217.8" y="297" width="1.8" height="96" fill="#f6f9f6"/><rect x="219.6" y="297" width="1.2" height="96" fill="#a9c8df" opacity="0.8"/><rect x="227" y="300" width="1.3" height="86" fill="#eaf2f6"/><rect x="232.4" y="352" width="1.4" height="34" fill="#eef4f7"/><rect x="214" y="366" width="1.4" height="20" fill="#eef4f7"/><rect x="234" y="370.4" width="15" height="1.6" fill="#b7a8b4"/><rect x="247.6" y="368.6" width="1.8" height="5" fill="#c9b9c2"/><path d="M229.6 338.4 q0 -2.4 4.8 -2.4 q4.8 0 4.8 2.4 v2.2 h-9.6 Z" fill="#4d8fd2"/><path d="M229.8 340.4 h9.2 l1 8.2 h-11.2 Z" fill="#2c6fc2"/><path d="M228 348 h12.8 q1 0 1 1 v3.4 q0 1.4 -1.6 1.4 h-11.6 q-1.6 0 -1.6 -1.4 v-3.4 q0 -1 1 -1 Z" fill="#182c6e"/><rect x="231" y="349.6" width="6.8" height="2" fill="#2d62b4"/></g></g><path d="M206.5 393.5 L208.8 413.5 L204.4 414.0 Z" fill="#e8eed6"/><ellipse cx="214.70" cy="292.20" rx="46.00" ry="11.40" fill="#b3c094"/><ellipse cx="214.70" cy="290.00" rx="46.20" ry="11.00" fill="#dfe7c8"/><circle cx="261.3" cy="308.7" r="2.4" fill="none" stroke="#d9e2c0" stroke-width="1.9"/></g><g><path d="M180.10 242.20 A34.60 5.60 0 0 0 249.30 242.20 L248.10 286.20 A33.40 10.20 0 0 1 181.30 286.20 Z" fill="url(#lid)"/><path d="M248.3 273 h5.2 q1.4 0 1.4 1.4 v2.6 q0 1.2 -1.4 1.2 h-5.6 Z" fill="#2c8838"/><rect x="248.3" y="279.2" width="8.5" height="1.3" fill="#eef3e6"/><ellipse cx="214.70" cy="247.20" rx="34.40" ry="7.50" fill="#1c6a2c"/><ellipse cx="214.70" cy="244.20" rx="34.60" ry="7.00" fill="url(#lidtop)"/><path d="M195.3 240 v-2.4 q0 -1.3 3.2 -1.3 q3.2 0 3.2 1.3 v2.4 q0 1.2 -3.2 1.2 q-3.2 0 -3.2 -1.2 Z" fill="#237a31"/><ellipse cx="198.5" cy="237.5" rx="3.2" ry="1.2" fill="#2f9340"/><path d="M189.5 254.2 q2.6 -1.6 5.2 0 q-0.6 3 -2.6 3 q-2 0 -2.6 -3 Z" fill="#12491d"/><rect x="178.3" y="257.5" width="6.6" height="2" fill="#f4f7f4"/><path d="M173.9 256.8 h4.2 v3.4 h-1.4 v3.8 h-3.8 v-5 q0 -2.2 1 -2.2 Z" fill="#2563ae"/></g><g><g><path d="M293.4 396.0 L345.0 434.4 L417.0 405.5 L417.0 408.1 L345.0 437.0 L293.4 398.6 Z" fill="#b3c09a"/><path d="M345.0 434.4 L417.0 405.5 L417.0 408.1 L345.0 437.0 Z" fill="#c3cfac"/><path d="M293.4 396.0 L345.0 434.4 L417.0 405.5 L365.4 367.1 Z" fill="#d9e4c4"/></g><ellipse cx="358.6" cy="408.0" rx="46.6" ry="16.8" fill="#a9b78e" opacity="0.6"/><path d="M310.00 308.20 A44.60 10.60 0 0 0 399.20 308.20 L398.40 405.50 A43.80 16.80 0 0 1 310.80 405.50 Z" fill="url(#body)"/><path d="M345.5 412.4 L347.8 432.4 L343.4 432.9 Z" fill="#e8eed6"/><ellipse cx="354.60" cy="308.40" rx="46.00" ry="11.40" fill="#b3c094"/><ellipse cx="354.60" cy="306.20" rx="46.20" ry="11.00" fill="#dfe7c8"/><path d="M346.2 331.8 q-1.6 0.4 -1.4 3 q0.2 2.6 1.4 2.6 q1.2 0 1 -1.8" stroke="#e9efd9" stroke-width="0.9" fill="none"/><circle cx="401.2" cy="324.9" r="2.4" fill="none" stroke="#d9e2c0" stroke-width="1.9"/><g><path d="M351.2 353.5 v-7 h2.2 v7 Z M354.2 354.5 v-9.6 h2.2 v9.6 Z M357.4 354.5 v-10.6 h2.2 v10.6 Z M360.5 353.5 v-8 h2.2 v8 Z" fill="#2d5aa0"/><path d="M350.6 351.9 q0.4 7.4 6.4 7.4 q6 0 6.4 -7.4 q-6.4 3.6 -12.8 0 Z" fill="#4a9a3f"/><path d="M351.4 354.1 q5.6 3.4 11.2 0 q-1.2 2.2 -5.6 2.4 q-4.4 -0.2 -5.6 -2.4 Z" fill="#e4ecd2"/><path d="M352.6 356.3 q4.4 2.2 8.8 0 q-1.6 2.6 -4.4 2.6 q-2.8 0 -4.4 -2.6 Z" fill="#3b7fc0"/><text x="335.8" y="369.5" font-size="10" textLength="40.4" lengthAdjust="spacingAndGlyphs"><tspan fill="#4a9944">ГРИН</tspan><tspan fill="#2c4988" font-style="italic">ЛОС</tspan></text><text x="337.4" y="371.7" font-size="2.4" fill="#5f7069" textLength="38" lengthAdjust="spacingAndGlyphs">очистные системы водоотведения</text></g></g><g><path d="M320.5 267 L313.7 280 L313.7 305.6 L323.0 309.6 Z" fill="#27803a"/><path d="M314.1 279.4 L314.1 305.2" stroke="#3c9c48" stroke-width="0.9" fill="none"/><path d="M320.6 268 L321.6 307.6" stroke="#195c28" stroke-width="1.2" fill="none" opacity="0.7"/><path d="M388.7 265.5 L395.2 280 L395.2 293.6 L387.2 302.6 Z" fill="#1a5c28"/><path d="M320.80 279.00 A33.80 6.20 0 0 0 388.40 279.00 L387.80 306.10 A33.20 7.20 0 0 1 321.40 306.10 Z" fill="url(#lid2)"/><path d="M320.00 242.20 A34.60 5.60 0 0 0 389.20 242.20 L388.60 279.00 A34.00 6.20 0 0 1 320.60 279.00 Z" fill="url(#lid)"/><path d="M320.60 279.00 A34.00 6.20 0 0 0 388.60 279.00" stroke="#175a26" stroke-width="1" fill="none" opacity="0.8"/><path d="M361.7 271 L363.9 275 L363.9 312.7 L361.7 316.7 Z" fill="#17552a" opacity="0.7"/><path d="M356.8 274.5 L361.7 270.4 L362.2 316.7 L356.8 311.7 Z" fill="#5bb055"/><rect x="387.2" y="297.4" width="9" height="1.6" fill="#f3f6ee"/><ellipse cx="354.60" cy="247.20" rx="34.40" ry="7.50" fill="#1c6a2c"/><ellipse cx="354.60" cy="244.20" rx="34.60" ry="7.00" fill="url(#lidtop)"/><path d="M335.2 240 v-2.4 q0 -1.3 3.2 -1.3 q3.2 0 3.2 1.3 v2.4 q0 1.2 -3.2 1.2 q-3.2 0 -3.2 -1.2 Z" fill="#237a31"/><ellipse cx="338.4" cy="237.5" rx="3.2" ry="1.2" fill="#2f9340"/><path d="M329.4 254.2 q2.6 -1.6 5.2 0 q-0.6 3 -2.6 3 q-2 0 -2.6 -3 Z" fill="#12491d"/><rect x="318.2" y="257.5" width="6.6" height="2" fill="#f4f7f4"/><path d="M313.8 256.8 h4.2 v3.4 h-1.4 v3.8 h-3.8 v-5 q0 -2.2 1 -2.2 Z" fill="#2563ae"/></g><g><rect x="305.4" y="319.8" width="7.2" height="5.4" rx="1.5" fill="#f2f3f0"/><rect x="307.4" y="323.1" width="4.2" height="1.6" fill="#c9cdc9"/><ellipse cx="306.8" cy="322.5" rx="1.5" ry="2.7" fill="#8e9497"/></g><g><g><path d="M435.0 411.7 L486.0 448.3 L558.3 420.5 L558.3 423.1 L486.0 450.9 L435.0 414.3 Z" fill="#b3c09a"/><path d="M486.0 448.3 L558.3 420.5 L558.3 423.1 L486.0 450.9 Z" fill="#c3cfac"/><path d="M435.6 414.2 L437.7 415.8 L437.7 420.5 L435.6 418.9 Z M439.5 417.0 L441.7 418.6 L441.7 423.3 L439.5 421.7 Z M443.4 419.9 L445.6 421.4 L445.6 426.1 L443.4 424.6 Z M447.4 422.7 L449.5 424.2 L449.5 428.9 L447.4 427.4 Z M451.3 425.5 L453.4 427.0 L453.4 431.7 L451.3 430.2 Z M455.2 428.3 L457.4 429.8 L457.4 434.5 L455.2 433.0 Z M459.1 431.1 L461.3 432.7 L461.3 437.4 L459.1 435.8 Z M463.1 433.9 L465.2 435.5 L465.2 440.2 L463.1 438.6 Z M467.0 436.7 L469.1 438.3 L469.1 443.0 L467.0 441.4 Z M470.9 439.6 L473.1 441.1 L473.1 445.8 L470.9 444.3 Z M474.8 442.4 L477.0 443.9 L477.0 448.6 L474.8 447.1 Z M478.7 445.2 L480.9 446.7 L480.9 451.4 L478.7 449.9 Z M482.7 448.0 L484.8 449.6 L484.8 454.3 L482.7 452.7 Z " fill="#c3cda6"/><path d="M435.0 411.7 L486.0 448.3 L558.3 420.5 L507.3 383.9 Z" fill="#d9e4c4"/></g><ellipse cx="498.8" cy="424.0" rx="46.6" ry="16.8" fill="#a9b78e" opacity="0.6"/><path d="M450.20 324.20 A44.60 10.60 0 0 0 539.40 324.20 L538.60 421.50 A43.80 16.80 0 0 1 451.00 421.50 Z" fill="url(#body)"/><g transform="translate(280.10 33.00)"><clipPath id="cut280"><path d="M178.6 301.4 C180.2 322 182.4 342 186.2 354 C190.2 365.5 195.6 374.0 203.4 380.2 C210 385.0 216 387.2 223 387.3 C236 387.6 247 386.2 253.8 382.8 L253.8 301.4 Z"/></clipPath><path d="M178.6 301.4 C180.2 322 182.4 342 186.2 354 C190.2 365.5 195.6 374.0 203.4 380.2 C210 385.0 216 387.2 223 387.3 C236 387.6 247 386.2 253.8 382.8 L253.8 301.4 Z" fill="#e9eed8" stroke="#e9eed8" stroke-width="2.6" stroke-linejoin="round"/><g clip-path="url(#cut280)"><rect x="170" y="295" width="92" height="100" fill="#dde8e6"/><rect x="183" y="296" width="2.4" height="92" fill="#f3f7f3" opacity="0.7"/><rect x="190" y="296" width="2.4" height="92" fill="#f3f7f3" opacity="0.7"/><rect x="201" y="296" width="2.4" height="92" fill="#f3f7f3" opacity="0.7"/><rect x="226" y="296" width="2.4" height="92" fill="#f3f7f3" opacity="0.7"/><rect x="238" y="296" width="2.4" height="92" fill="#f3f7f3" opacity="0.7"/><rect x="247" y="296" width="2.4" height="92" fill="#f3f7f3" opacity="0.7"/><rect x="170" y="312.4" width="48.6" height="82" fill="url(#water)"/><rect x="218.6" y="300" width="40" height="95" fill="#bdd9ee"/><rect x="218.6" y="352" width="40" height="45" fill="url(#water)" opacity="0.9"/><path d="M236 300 Q257 312 256 338 L256 300 Z" fill="#eef5f8" opacity="0.6"/><path d="M240 318 Q252 322 256 334 L256 344 Q248 340 241 330 Z" fill="#e3eff6" opacity="0.55"/><rect x="222" y="300" width="4" height="86" fill="#b9d6ea" opacity="0.8"/><path d="M196 377.9 Q215 371.9 256 375.9 L256 395 L196 395 Z" fill="#3e9fe0"/><path d="M186 372 Q200 376 214 374 L214 380 Q200 384 190 380 Z" fill="#6bb8ea" opacity="0.8"/><path d="M191.6 313.6 H199.8 V364.6 Q199.8 367 197.4 367 H194 Q191.6 367 191.6 364.6 Z" fill="#7fa9cf"/><rect x="193.6" y="313.6" width="4.2" height="51" fill="#c3def1"/><rect x="191.4" y="313.6" width="0.8" height="51" fill="#5d88b3"/><rect x="199.2" y="313.6" width="0.8" height="51" fill="#5d88b3"/><rect x="198.8" y="306.2" width="8.8" height="3.2" fill="#46555a"/><rect x="207.6" y="313" width="8.8" height="30.4" fill="#9fc39b"/><rect x="209" y="343" width="1.5" height="44" fill="#e8f0f4"/><circle cx="203.1" cy="360.7" r="0.7" fill="#fff" opacity="0.95"/><circle cx="202.5" cy="358.7" r="0.8" fill="#fff" opacity="0.95"/><circle cx="209.9" cy="377.0" r="0.9" fill="#fff" opacity="0.95"/><circle cx="205.4" cy="360.3" r="0.7" fill="#fff" opacity="0.95"/><circle cx="202.8" cy="359.1" r="0.7" fill="#fff" opacity="0.95"/><circle cx="210.1" cy="377.3" r="1.0" fill="#fff" opacity="0.95"/><circle cx="206.0" cy="374.2" r="0.7" fill="#fff" opacity="0.95"/><circle cx="208.2" cy="370.0" r="1.0" fill="#fff" opacity="0.95"/><circle cx="205.8" cy="376.1" r="0.9" fill="#fff" opacity="0.95"/><circle cx="207.2" cy="371.1" r="0.6" fill="#fff" opacity="0.95"/><circle cx="204.0" cy="366.4" r="1.0" fill="#fff" opacity="0.95"/><circle cx="208.3" cy="375.8" r="0.7" fill="#fff" opacity="0.95"/><circle cx="208.6" cy="376.8" r="1.0" fill="#fff" opacity="0.95"/><circle cx="208.0" cy="375.4" r="0.8" fill="#fff" opacity="0.95"/><circle cx="206.5" cy="369.4" r="0.6" fill="#fff" opacity="0.95"/><circle cx="207.3" cy="362.3" r="0.6" fill="#fff" opacity="0.95"/><circle cx="205.1" cy="356.1" r="0.7" fill="#fff" opacity="0.95"/><circle cx="206.4" cy="367.8" r="0.7" fill="#fff" opacity="0.95"/><circle cx="206.9" cy="378.9" r="0.8" fill="#fff" opacity="0.95"/><circle cx="205.9" cy="359.9" r="0.7" fill="#fff" opacity="0.95"/><circle cx="207.1" cy="363.5" r="0.7" fill="#fff" opacity="0.95"/><circle cx="208.9" cy="368.4" r="0.6" fill="#fff" opacity="0.95"/><circle cx="203.0" cy="356.5" r="0.9" fill="#fff" opacity="0.95"/><circle cx="205.5" cy="369.8" r="0.7" fill="#fff" opacity="0.95"/><circle cx="204.8" cy="359.3" r="0.6" fill="#fff" opacity="0.95"/><circle cx="209.4" cy="371.7" r="1.0" fill="#fff" opacity="0.95"/><circle cx="210.0" cy="372.6" r="0.6" fill="#fff" opacity="0.95"/><circle cx="208.1" cy="361.9" r="0.9" fill="#fff" opacity="0.95"/><circle cx="208.5" cy="364.9" r="0.9" fill="#fff" opacity="0.95"/><circle cx="206.6" cy="374.6" r="0.6" fill="#fff" opacity="0.95"/><circle cx="204.2" cy="365.7" r="0.7" fill="#fff" opacity="0.95"/><circle cx="207.5" cy="378.1" r="0.6" fill="#fff" opacity="0.95"/><circle cx="202.6" cy="356.1" r="0.9" fill="#fff" opacity="0.95"/><circle cx="204.7" cy="363.7" r="0.6" fill="#fff" opacity="0.95"/><circle cx="186.9" cy="331.6" r="0.5" fill="#fff" opacity="0.8"/><circle cx="182.2" cy="319.9" r="0.5" fill="#fff" opacity="0.8"/><circle cx="181.3" cy="323.4" r="0.5" fill="#fff" opacity="0.8"/><circle cx="185.1" cy="322.8" r="0.5" fill="#fff" opacity="0.8"/><circle cx="181.2" cy="333.7" r="0.5" fill="#fff" opacity="0.8"/><circle cx="182.5" cy="349.9" r="0.5" fill="#fff" opacity="0.8"/><circle cx="181.7" cy="334.9" r="0.5" fill="#fff" opacity="0.8"/><circle cx="185.6" cy="331.1" r="0.5" fill="#fff" opacity="0.8"/><circle cx="186.9" cy="333.3" r="0.5" fill="#fff" opacity="0.8"/><circle cx="182.5" cy="331.1" r="0.5" fill="#fff" opacity="0.8"/><path d="M178 297 C180.2 322 182.4 342 186.2 354 C190.2 367 195.6 377 203.4 383.2 L206 381.4 C199 376 194.6 366 191 353 C187.6 340 185.8 320 184.8 297 Z" fill="#e9f1ec" opacity="0.8"/><rect x="217.8" y="297" width="1.8" height="96" fill="#f6f9f6"/><rect x="219.6" y="297" width="1.2" height="96" fill="#a9c8df" opacity="0.8"/><rect x="227" y="300" width="1.3" height="86" fill="#eaf2f6"/><rect x="232.4" y="352" width="1.4" height="34" fill="#eef4f7"/><rect x="214" y="366" width="1.4" height="20" fill="#eef4f7"/><rect x="234" y="370.4" width="15" height="1.6" fill="#b7a8b4"/><rect x="247.6" y="368.6" width="1.8" height="5" fill="#c9b9c2"/><path d="M229.6 338.4 q0 -2.4 4.8 -2.4 q4.8 0 4.8 2.4 v2.2 h-9.6 Z" fill="#4d8fd2"/><path d="M229.8 340.4 h9.2 l1 8.2 h-11.2 Z" fill="#2c6fc2"/><path d="M228 348 h12.8 q1 0 1 1 v3.4 q0 1.4 -1.6 1.4 h-11.6 q-1.6 0 -1.6 -1.4 v-3.4 q0 -1 1 -1 Z" fill="#182c6e"/><rect x="231" y="349.6" width="6.8" height="2" fill="#2d62b4"/></g></g><path d="M486.5 426.3 L488.8 446.3 L484.4 446.8 Z" fill="#e8eed6"/><ellipse cx="494.80" cy="324.40" rx="46.00" ry="11.40" fill="#b3c094"/><ellipse cx="494.80" cy="322.20" rx="46.20" ry="11.00" fill="#dfe7c8"/><circle cx="541.4" cy="340.9" r="2.4" fill="none" stroke="#d9e2c0" stroke-width="1.9"/></g><g><path d="M460.7 267 L453.9 280 L453.9 320.0 L463.2 324.0 Z" fill="#27803a"/><path d="M454.3 279.4 L454.3 319.6" stroke="#3c9c48" stroke-width="0.9" fill="none"/><path d="M460.8 268 L461.8 322.0" stroke="#195c28" stroke-width="1.2" fill="none" opacity="0.7"/><path d="M528.9 265.5 L535.4 280 L535.4 308.0 L527.4 317.0 Z" fill="#1a5c28"/><path d="M461.00 279.00 A33.80 6.20 0 0 0 528.60 279.00 L528.00 320.50 A33.20 7.20 0 0 1 461.60 320.50 Z" fill="url(#lid2)"/><path d="M460.20 242.20 A34.60 5.60 0 0 0 529.40 242.20 L528.80 279.00 A34.00 6.20 0 0 1 460.80 279.00 Z" fill="url(#lid)"/><path d="M460.80 279.00 A34.00 6.20 0 0 0 528.80 279.00" stroke="#175a26" stroke-width="1" fill="none" opacity="0.8"/><path d="M501.9 271 L504.1 275 L504.1 327.1 L501.9 331.1 Z" fill="#17552a" opacity="0.7"/><path d="M497.0 274.5 L501.9 270.4 L502.4 331.1 L497.0 326.1 Z" fill="#5bb055"/><rect x="527.4" y="310.8" width="9" height="1.6" fill="#f3f6ee"/><ellipse cx="494.80" cy="247.20" rx="34.40" ry="7.50" fill="#1c6a2c"/><ellipse cx="494.80" cy="244.20" rx="34.60" ry="7.00" fill="url(#lidtop)"/><path d="M475.4 240 v-2.4 q0 -1.3 3.2 -1.3 q3.2 0 3.2 1.3 v2.4 q0 1.2 -3.2 1.2 q-3.2 0 -3.2 -1.2 Z" fill="#237a31"/><ellipse cx="478.6" cy="237.5" rx="3.2" ry="1.2" fill="#2f9340"/><path d="M469.6 254.2 q2.6 -1.6 5.2 0 q-0.6 3 -2.6 3 q-2 0 -2.6 -3 Z" fill="#12491d"/><rect x="458.4" y="257.5" width="6.6" height="2" fill="#f4f7f4"/><path d="M454.0 256.8 h4.2 v3.4 h-1.4 v3.8 h-3.8 v-5 q0 -2.2 1 -2.2 Z" fill="#2563ae"/></g><g><rect x="447.0" y="335.2" width="8.1" height="6.5" rx="1.5" fill="#f2f3f0"/><rect x="449.0" y="339.2" width="5.1" height="1.9" fill="#c9cdc9"/><ellipse cx="448.4" cy="338.4" rx="1.5" ry="3.2" fill="#8e9497"/></g><g><g><path d="M574.0 426.0 L627.0 463.5 L699.0 436.0 L699.0 438.6 L627.0 466.1 L574.0 428.6 Z" fill="#b3c09a"/><path d="M627.0 463.5 L699.0 436.0 L699.0 438.6 L627.0 466.1 Z" fill="#c3cfac"/><path d="M574.6 428.5 L576.9 430.1 L576.9 434.8 L574.6 433.2 Z M578.7 431.4 L580.9 433.0 L580.9 437.7 L578.7 436.1 Z M582.8 434.3 L585.0 435.9 L585.0 440.6 L582.8 439.0 Z M586.8 437.2 L589.1 438.8 L589.1 443.5 L586.8 441.9 Z M590.9 440.1 L593.2 441.7 L593.2 446.4 L590.9 444.8 Z M595.0 443.0 L597.2 444.5 L597.2 449.2 L595.0 447.7 Z M599.1 445.8 L601.3 447.4 L601.3 452.1 L599.1 450.5 Z M603.1 448.7 L605.4 450.3 L605.4 455.0 L603.1 453.4 Z M607.2 451.6 L609.5 453.2 L609.5 457.9 L607.2 456.3 Z M611.3 454.5 L613.5 456.1 L613.5 460.8 L611.3 459.2 Z M615.4 457.4 L617.6 459.0 L617.6 463.7 L615.4 462.1 Z M619.5 460.3 L621.7 461.9 L621.7 466.6 L619.5 465.0 Z M623.5 463.1 L625.8 464.7 L625.8 469.4 L623.5 467.8 Z " fill="#c3cda6"/><path d="M574.0 426.0 L627.0 463.5 L699.0 436.0 L646.0 398.5 Z" fill="#d9e4c4"/></g><ellipse cx="639.6" cy="439.5" rx="46.6" ry="16.8" fill="#a9b78e" opacity="0.6"/><path d="M591.00 338.50 A44.60 10.60 0 0 0 680.20 338.50 L679.40 437.00 A43.80 16.80 0 0 1 591.80 437.00 Z" fill="url(#body)"/><path d="M627.5 441.5 L629.8 461.5 L625.4 462.0 Z" fill="#e8eed6"/><ellipse cx="635.60" cy="338.70" rx="46.00" ry="11.40" fill="#b3c094"/><ellipse cx="635.60" cy="336.50" rx="46.20" ry="11.00" fill="#dfe7c8"/><path d="M627.2 362.1 q-1.6 0.4 -1.4 3 q0.2 2.6 1.4 2.6 q1.2 0 1 -1.8" stroke="#e9efd9" stroke-width="0.9" fill="none"/><circle cx="682.2" cy="355.2" r="2.4" fill="none" stroke="#d9e2c0" stroke-width="1.9"/><g><path d="M632.2 378.0 v-7 h2.2 v7 Z M635.2 379.0 v-9.6 h2.2 v9.6 Z M638.4 379.0 v-10.6 h2.2 v10.6 Z M641.5 378.0 v-8 h2.2 v8 Z" fill="#2d5aa0"/><path d="M631.6 376.4 q0.4 7.4 6.4 7.4 q6 0 6.4 -7.4 q-6.4 3.6 -12.8 0 Z" fill="#4a9a3f"/><path d="M632.4 378.6 q5.6 3.4 11.2 0 q-1.2 2.2 -5.6 2.4 q-4.4 -0.2 -5.6 -2.4 Z" fill="#e4ecd2"/><path d="M633.6 380.8 q4.4 2.2 8.8 0 q-1.6 2.6 -4.4 2.6 q-2.8 0 -4.4 -2.6 Z" fill="#3b7fc0"/><text x="616.8" y="394.0" font-size="10" textLength="40.4" lengthAdjust="spacingAndGlyphs"><tspan fill="#4a9944">ГРИН</tspan><tspan fill="#2c4988" font-style="italic">ЛОС</tspan></text><text x="618.4" y="396.2" font-size="2.4" fill="#5f7069" textLength="38" lengthAdjust="spacingAndGlyphs">очистные системы водоотведения</text></g></g><g><path d="M601.5 267 L594.7 280 L594.7 335.0 L604.0 339.0 Z" fill="#27803a"/><path d="M595.1 279.4 L595.1 334.6" stroke="#3c9c48" stroke-width="0.9" fill="none"/><path d="M601.6 268 L602.6 337.0" stroke="#195c28" stroke-width="1.2" fill="none" opacity="0.7"/><path d="M669.7 265.5 L676.2 280 L676.2 323.0 L668.2 332.0 Z" fill="#1a5c28"/><path d="M601.80 279.00 A33.80 6.20 0 0 0 669.40 279.00 L668.80 335.50 A33.20 7.20 0 0 1 602.40 335.50 Z" fill="url(#lid2)"/><path d="M601.00 242.20 A34.60 5.60 0 0 0 670.20 242.20 L669.60 279.00 A34.00 6.20 0 0 1 601.60 279.00 Z" fill="url(#lid)"/><path d="M601.60 279.00 A34.00 6.20 0 0 0 669.60 279.00" stroke="#175a26" stroke-width="1" fill="none" opacity="0.8"/><path d="M642.7 271 L644.9 275 L644.9 342.1 L642.7 346.1 Z" fill="#17552a" opacity="0.7"/><path d="M637.8 274.5 L642.7 270.4 L643.2 346.1 L637.8 341.1 Z" fill="#5bb055"/><rect x="668.2" y="324.8" width="9" height="1.6" fill="#f3f6ee"/><ellipse cx="635.60" cy="247.20" rx="34.40" ry="7.50" fill="#1c6a2c"/><ellipse cx="635.60" cy="244.20" rx="34.60" ry="7.00" fill="url(#lidtop)"/><path d="M616.2 240 v-2.4 q0 -1.3 3.2 -1.3 q3.2 0 3.2 1.3 v2.4 q0 1.2 -3.2 1.2 q-3.2 0 -3.2 -1.2 Z" fill="#237a31"/><ellipse cx="619.4" cy="237.5" rx="3.2" ry="1.2" fill="#2f9340"/><path d="M610.4 254.2 q2.6 -1.6 5.2 0 q-0.6 3 -2.6 3 q-2 0 -2.6 -3 Z" fill="#12491d"/><rect x="599.2" y="257.5" width="6.6" height="2" fill="#f4f7f4"/><path d="M594.8 256.8 h4.2 v3.4 h-1.4 v3.8 h-3.8 v-5 q0 -2.2 1 -2.2 Z" fill="#2563ae"/></g><g><rect x="586.7" y="348.9" width="9.0" height="7.6" rx="1.5" fill="#f2f3f0"/><rect x="588.7" y="353.6" width="6.0" height="2.3" fill="#c9cdc9"/><ellipse cx="588.1" cy="352.7" rx="1.5" ry="3.8" fill="#8e9497"/></g>
<rect x="168" y="300.4" width="6.6" height="4.4" fill="#c99a28"/><rect x="168" y="300.9" width="6.6" height="1.6" fill="#dcae35" opacity="0.9"/><rect x="173.6" y="300.2" width="1.6" height="4.8" fill="#a88422"/><g><rect x="117.5" y="243.8" width="513.5" height="2.2" rx="0.9" fill="#fbfdf7"/><rect x="117.5" y="295.9" width="101.0" height="2.1" rx="0.9" fill="#fbfdf7"/><rect x="117.5" y="311.4" width="233.0" height="2.1" rx="0.9" fill="#fbfdf7"/><rect x="117.5" y="326.4" width="374.5" height="2.1" rx="0.9" fill="#fbfdf7"/><rect x="117.5" y="341.6" width="476.5" height="2.1" rx="0.9" fill="#fbfdf7"/><rect x="117.5" y="356.2" width="38.0" height="2.1" rx="0.9" fill="#fbfdf7"/><text x="126.3" y="242.4" fill="#f3f8c4" stroke="#f3f8c4" stroke-width="0.25" font-weight="700" textLength="17.9" lengthAdjust="spacingAndGlyphs"><tspan font-size="10.7">0</tspan><tspan font-size="10.4"> см</tspan></text><text x="123.6" y="294.6" fill="#fbfdf7" stroke="#fbfdf7" stroke-width="0.25" font-weight="700" textLength="24.6" lengthAdjust="spacingAndGlyphs"><tspan font-size="10.7">80</tspan><tspan font-size="10.4"> см</tspan></text><text x="121.4" y="310.2" fill="#fbfdf7" stroke="#fbfdf7" stroke-width="0.25" font-weight="700" textLength="29.2" lengthAdjust="spacingAndGlyphs"><tspan font-size="10.7">100</tspan><tspan font-size="10.4"> см</tspan></text><text x="121.4" y="325.4" fill="#fbfdf7" stroke="#fbfdf7" stroke-width="0.25" font-weight="700" textLength="29.2" lengthAdjust="spacingAndGlyphs"><tspan font-size="10.7">120</tspan><tspan font-size="10.4"> см</tspan></text><text x="121.4" y="340.4" fill="#fbfdf7" stroke="#fbfdf7" stroke-width="0.25" font-weight="700" textLength="29.2" lengthAdjust="spacingAndGlyphs"><tspan font-size="10.7">140</tspan><tspan font-size="10.4"> см</tspan></text><text x="121.4" y="355.2" fill="#fbfdf7" stroke="#fbfdf7" stroke-width="0.25" font-weight="700" textLength="29.2" lengthAdjust="spacingAndGlyphs"><tspan font-size="10.7">160</tspan><tspan font-size="10.4"> см</tspan></text></g>
<g><path d="M0 364.6 H129 Q140.2 364.6 140.2 375.8 V479.2 Q140.2 490.3 129 490.3 H0 Z" fill="#fff"/><text x="-8.4" y="387.1" font-size="12.6" font-weight="700" textLength="56.8" lengthAdjust="spacingAndGlyphs"><tspan fill="#3c9b3a">ГРИН</tspan><tspan fill="#2c3a7c">ЛОС</tspan></text><text x="1.0" y="410.6" font-size="13.4" font-weight="700" fill="#2c3a7c" textLength="100.2" lengthAdjust="spacingAndGlyphs">глубины заложения</text><text x="-0.6" y="426.8" font-size="13.4" font-weight="700" fill="#2c3a7c" textLength="131.2" lengthAdjust="spacingAndGlyphs">али и удаления очистного</text><text x="0.4" y="443.3" font-size="13.4" font-weight="700" fill="#2c3a7c" textLength="124.2" lengthAdjust="spacingAndGlyphs">модели Стандарт, Миди,</text><text x="0.2" y="459.9" font-size="13.4" font-weight="700" fill="#2c3a7c" textLength="88.2" lengthAdjust="spacingAndGlyphs">ут дополнительно</text><text x="0.2" y="476.3" font-size="13.4" font-weight="700" fill="#2c3a7c" textLength="38.8" lengthAdjust="spacingAndGlyphs">м 20 см.</text></g>
<g><rect x="321.4" y="110.6" width="211.6" height="34.6" rx="15.5" fill="#fff"/><text x="334.8" y="133.5" font-size="15" fill="#2a3778" stroke="#2a3778" stroke-width="0.45" textLength="41.9" lengthAdjust="spacingAndGlyphs">СХЕМА</text><text x="381.6" y="133.5" font-size="15" fill="#2a3778" stroke="#2a3778" stroke-width="0.45" textLength="64.8" lengthAdjust="spacingAndGlyphs">удлинения</text><text x="451.7" y="133.5" font-size="15" fill="#2a3778" stroke="#2a3778" stroke-width="0.45" textLength="67.8" lengthAdjust="spacingAndGlyphs">горловины</text></g>
</svg></body></html>
